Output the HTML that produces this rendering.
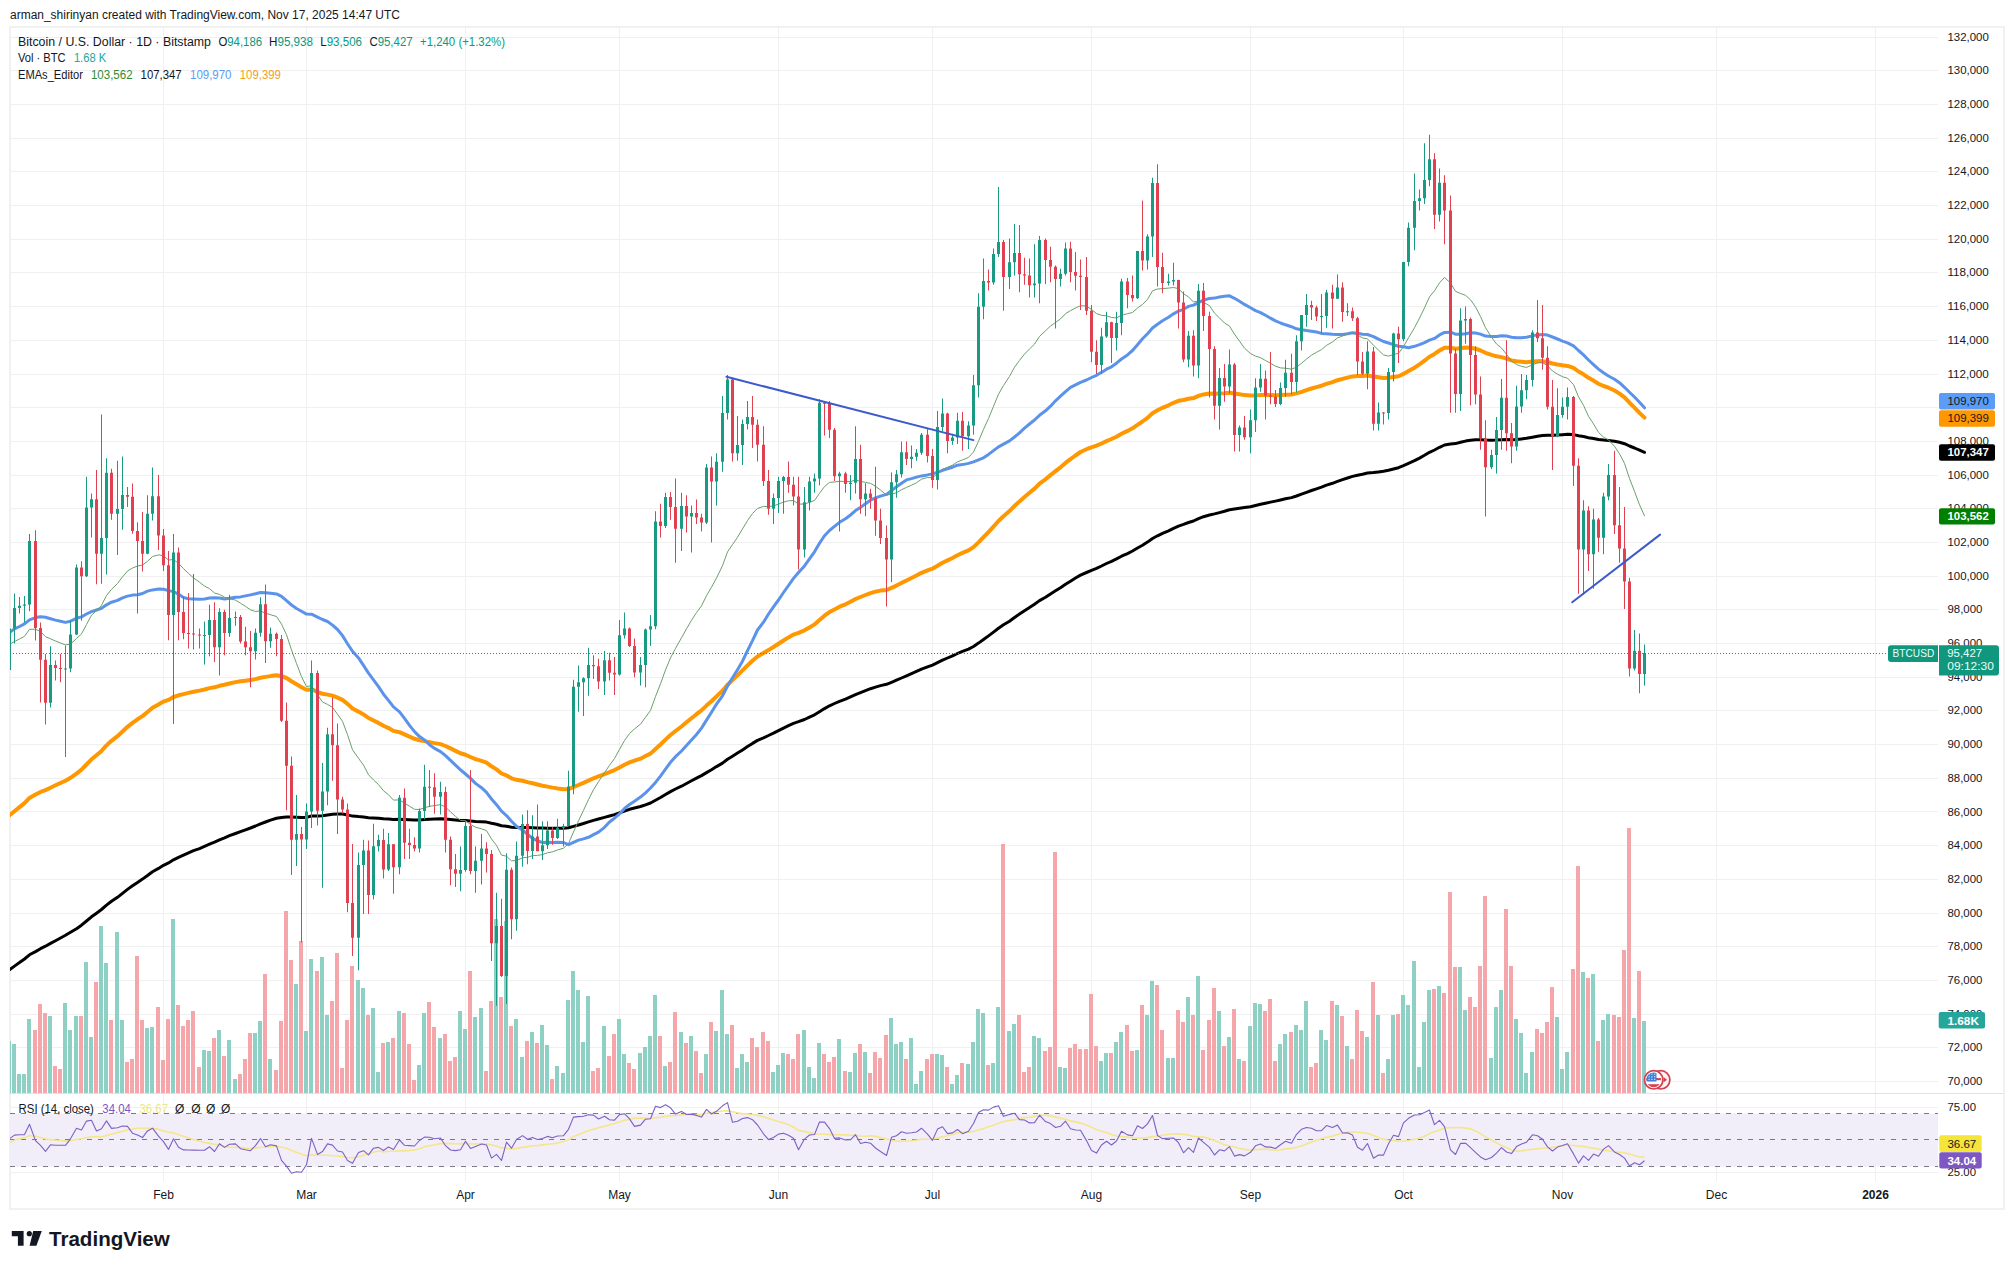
<!DOCTYPE html>
<html><head><meta charset="utf-8"><style>
html,body{margin:0;padding:0;background:#ffffff;width:2014px;height:1269px;overflow:hidden;position:relative;font-family:"Liberation Sans",sans-serif}
</style></head><body>
<svg width="2014" height="1269" viewBox="0 0 2014 1269" style="position:absolute;left:0;top:0">
<defs><clipPath id="pc"><rect x="10" y="27" width="1928" height="1066"/></clipPath><clipPath id="rc"><rect x="10" y="1094" width="1928" height="88"/></clipPath></defs>
<rect x="10" y="27" width="1994" height="1182" fill="#ffffff" stroke="#f1f1f1" stroke-width="2"/>
<path d="M163.5 26.5V1181.5M306.5 26.5V1181.5M465.5 26.5V1181.5M619.5 26.5V1181.5M778.5 26.5V1181.5M932.5 26.5V1181.5M1091.5 26.5V1181.5M1250.5 26.5V1181.5M1403.5 26.5V1181.5M1562.5 26.5V1181.5M1716.5 26.5V1181.5M1875.5 26.5V1181.5M9.5 1081.5H1938M9.5 1047.5H1938M9.5 1014.5H1938M9.5 980.5H1938M9.5 946.5H1938M9.5 913.5H1938M9.5 879.5H1938M9.5 845.5H1938M9.5 811.5H1938M9.5 778.5H1938M9.5 744.5H1938M9.5 710.5H1938M9.5 677.5H1938M9.5 643.5H1938M9.5 609.5H1938M9.5 576.5H1938M9.5 542.5H1938M9.5 508.5H1938M9.5 475.5H1938M9.5 441.5H1938M9.5 407.5H1938M9.5 374.5H1938M9.5 340.5H1938M9.5 306.5H1938M9.5 272.5H1938M9.5 239.5H1938M9.5 205.5H1938M9.5 171.5H1938M9.5 138.5H1938M9.5 104.5H1938M9.5 70.5H1938M9.5 37.5H1938M9.5 1107.5H1938M9.5 1172.5H1938" stroke="#f0f0f0" stroke-width="1" fill="none"/>
<path d="M9.5 1093.5H2003.5" stroke="#e2e2e2" stroke-width="1"/>
<g clip-path="url(#pc)" shape-rendering="crispEdges">
<path d="M2 1053.5h4V1093.5h-4ZM7 1040.5h4V1093.5h-4ZM12 1043.5h4V1093.5h-4ZM17 1073.5h4V1093.5h-4ZM22 1073.5h4V1093.5h-4ZM27 1018.5h4V1093.5h-4ZM48 1015.5h4V1093.5h-4ZM63 1002.5h4V1093.5h-4ZM68 1029.5h4V1093.5h-4ZM74 1015.5h4V1093.5h-4ZM84 961.5h4V1093.5h-4ZM89 1036.5h4V1093.5h-4ZM99 925.5h4V1093.5h-4ZM104 962.5h4V1093.5h-4ZM115 931.5h4V1093.5h-4ZM120 1019.5h4V1093.5h-4ZM145 1027.5h4V1093.5h-4ZM150 1026.5h4V1093.5h-4ZM171 918.5h4V1093.5h-4ZM202 1049.5h4V1093.5h-4ZM207 1050.5h4V1093.5h-4ZM217 1029.5h4V1093.5h-4ZM227 1039.5h4V1093.5h-4ZM233 1078.5h4V1093.5h-4ZM253 1032.5h4V1093.5h-4ZM258 1020.5h4V1093.5h-4ZM268 1058.5h4V1093.5h-4ZM294 983.5h4V1093.5h-4ZM304 1030.5h4V1093.5h-4ZM309 958.5h4V1093.5h-4ZM320 956.5h4V1093.5h-4ZM325 1014.5h4V1093.5h-4ZM356 979.5h4V1093.5h-4ZM361 987.5h4V1093.5h-4ZM371 1007.5h4V1093.5h-4ZM376 1071.5h4V1093.5h-4ZM386 1041.5h4V1093.5h-4ZM397 1010.5h4V1093.5h-4ZM417 1064.5h4V1093.5h-4ZM422 1012.5h4V1093.5h-4ZM438 1037.5h4V1093.5h-4ZM458 1010.5h4V1093.5h-4ZM463 1028.5h4V1093.5h-4ZM473 1016.5h4V1093.5h-4ZM479 1007.5h4V1093.5h-4ZM494 918.5h4V1093.5h-4ZM504 920.5h4V1093.5h-4ZM514 1018.5h4V1093.5h-4ZM520 1056.5h4V1093.5h-4ZM530 1031.5h4V1093.5h-4ZM540 1024.5h4V1093.5h-4ZM545 1044.5h4V1093.5h-4ZM555 1065.5h4V1093.5h-4ZM561 1072.5h4V1093.5h-4ZM566 999.5h4V1093.5h-4ZM571 970.5h4V1093.5h-4ZM576 989.5h4V1093.5h-4ZM581 1041.5h4V1093.5h-4ZM586 995.5h4V1093.5h-4ZM602 1025.5h4V1093.5h-4ZM617 1018.5h4V1093.5h-4ZM622 1053.5h4V1093.5h-4ZM638 1052.5h4V1093.5h-4ZM643 1046.5h4V1093.5h-4ZM648 1035.5h4V1093.5h-4ZM653 994.5h4V1093.5h-4ZM663 1065.5h4V1093.5h-4ZM679 1031.5h4V1093.5h-4ZM689 1035.5h4V1093.5h-4ZM704 1053.5h4V1093.5h-4ZM714 1030.5h4V1093.5h-4ZM720 989.5h4V1093.5h-4ZM725 1033.5h4V1093.5h-4ZM735 1067.5h4V1093.5h-4ZM740 1053.5h4V1093.5h-4ZM745 1061.5h4V1093.5h-4ZM771 1071.5h4V1093.5h-4ZM776 1064.5h4V1093.5h-4ZM781 1052.5h4V1093.5h-4ZM802 1029.5h4V1093.5h-4ZM807 1066.5h4V1093.5h-4ZM812 1077.5h4V1093.5h-4ZM817 1042.5h4V1093.5h-4ZM837 1038.5h4V1093.5h-4ZM848 1071.5h4V1093.5h-4ZM853 1052.5h4V1093.5h-4ZM863 1051.5h4V1093.5h-4ZM889 1017.5h4V1093.5h-4ZM894 1043.5h4V1093.5h-4ZM899 1041.5h4V1093.5h-4ZM909 1037.5h4V1093.5h-4ZM914 1083.5h4V1093.5h-4ZM919 1070.5h4V1093.5h-4ZM935 1053.5h4V1093.5h-4ZM940 1054.5h4V1093.5h-4ZM950 1083.5h4V1093.5h-4ZM955 1074.5h4V1093.5h-4ZM966 1063.5h4V1093.5h-4ZM971 1041.5h4V1093.5h-4ZM976 1008.5h4V1093.5h-4ZM981 1012.5h4V1093.5h-4ZM991 1062.5h4V1093.5h-4ZM996 1006.5h4V1093.5h-4ZM1007 1030.5h4V1093.5h-4ZM1012 1023.5h4V1093.5h-4ZM1032 1035.5h4V1093.5h-4ZM1037 1037.5h4V1093.5h-4ZM1058 1066.5h4V1093.5h-4ZM1063 1067.5h4V1093.5h-4ZM1099 1060.5h4V1093.5h-4ZM1104 1052.5h4V1093.5h-4ZM1114 1041.5h4V1093.5h-4ZM1119 1031.5h4V1093.5h-4ZM1135 1049.5h4V1093.5h-4ZM1145 1014.5h4V1093.5h-4ZM1150 980.5h4V1093.5h-4ZM1166 1057.5h4V1093.5h-4ZM1171 1057.5h4V1093.5h-4ZM1186 996.5h4V1093.5h-4ZM1196 975.5h4V1093.5h-4ZM1217 1010.5h4V1093.5h-4ZM1227 1036.5h4V1093.5h-4ZM1237 1058.5h4V1093.5h-4ZM1248 1025.5h4V1093.5h-4ZM1253 1002.5h4V1093.5h-4ZM1258 1003.5h4V1093.5h-4ZM1278 1043.5h4V1093.5h-4ZM1283 1033.5h4V1093.5h-4ZM1294 1024.5h4V1093.5h-4ZM1299 1029.5h4V1093.5h-4ZM1304 1000.5h4V1093.5h-4ZM1319 1029.5h4V1093.5h-4ZM1324 1039.5h4V1093.5h-4ZM1335 1004.5h4V1093.5h-4ZM1345 1045.5h4V1093.5h-4ZM1365 1036.5h4V1093.5h-4ZM1376 1014.5h4V1093.5h-4ZM1386 1058.5h4V1093.5h-4ZM1391 1014.5h4V1093.5h-4ZM1401 994.5h4V1093.5h-4ZM1406 1004.5h4V1093.5h-4ZM1412 960.5h4V1093.5h-4ZM1417 1066.5h4V1093.5h-4ZM1422 1021.5h4V1093.5h-4ZM1427 989.5h4V1093.5h-4ZM1437 985.5h4V1093.5h-4ZM1458 966.5h4V1093.5h-4ZM1463 1009.5h4V1093.5h-4ZM1489 1057.5h4V1093.5h-4ZM1494 1006.5h4V1093.5h-4ZM1499 989.5h4V1093.5h-4ZM1514 1018.5h4V1093.5h-4ZM1519 1032.5h4V1093.5h-4ZM1524 1072.5h4V1093.5h-4ZM1530 1051.5h4V1093.5h-4ZM1555 1016.5h4V1093.5h-4ZM1560 1068.5h4V1093.5h-4ZM1565 1051.5h4V1093.5h-4ZM1581 971.5h4V1093.5h-4ZM1591 973.5h4V1093.5h-4ZM1601 1019.5h4V1093.5h-4ZM1606 1013.5h4V1093.5h-4ZM1632 1017.5h4V1093.5h-4ZM1642 1020.5h4V1093.5h-4Z" fill="#8fd0c5"/>
<path d="M33 1029.5h4V1093.5h-4ZM38 1003.5h4V1093.5h-4ZM43 1012.5h4V1093.5h-4ZM53 1065.5h4V1093.5h-4ZM58 1068.5h4V1093.5h-4ZM79 1015.5h4V1093.5h-4ZM94 981.5h4V1093.5h-4ZM109 1019.5h4V1093.5h-4ZM125 1061.5h4V1093.5h-4ZM130 1058.5h4V1093.5h-4ZM135 955.5h4V1093.5h-4ZM140 1019.5h4V1093.5h-4ZM156 1006.5h4V1093.5h-4ZM161 1059.5h4V1093.5h-4ZM166 1018.5h4V1093.5h-4ZM176 1004.5h4V1093.5h-4ZM181 1025.5h4V1093.5h-4ZM186 1019.5h4V1093.5h-4ZM191 1010.5h4V1093.5h-4ZM197 1066.5h4V1093.5h-4ZM212 1037.5h4V1093.5h-4ZM222 1055.5h4V1093.5h-4ZM238 1073.5h4V1093.5h-4ZM243 1058.5h4V1093.5h-4ZM248 1032.5h4V1093.5h-4ZM263 973.5h4V1093.5h-4ZM274 1069.5h4V1093.5h-4ZM279 1020.5h4V1093.5h-4ZM284 910.5h4V1093.5h-4ZM289 959.5h4V1093.5h-4ZM299 940.5h4V1093.5h-4ZM315 970.5h4V1093.5h-4ZM330 1000.5h4V1093.5h-4ZM335 952.5h4V1093.5h-4ZM340 1067.5h4V1093.5h-4ZM345 1019.5h4V1093.5h-4ZM350 965.5h4V1093.5h-4ZM366 1014.5h4V1093.5h-4ZM381 1042.5h4V1093.5h-4ZM391 1037.5h4V1093.5h-4ZM402 1012.5h4V1093.5h-4ZM407 1043.5h4V1093.5h-4ZM412 1079.5h4V1093.5h-4ZM427 1001.5h4V1093.5h-4ZM432 1026.5h4V1093.5h-4ZM443 1033.5h4V1093.5h-4ZM448 1060.5h4V1093.5h-4ZM453 1056.5h4V1093.5h-4ZM468 970.5h4V1093.5h-4ZM484 1070.5h4V1093.5h-4ZM489 1000.5h4V1093.5h-4ZM499 996.5h4V1093.5h-4ZM509 1025.5h4V1093.5h-4ZM525 1040.5h4V1093.5h-4ZM535 1042.5h4V1093.5h-4ZM550 1078.5h4V1093.5h-4ZM591 1070.5h4V1093.5h-4ZM596 1067.5h4V1093.5h-4ZM607 1055.5h4V1093.5h-4ZM612 1033.5h4V1093.5h-4ZM627 1062.5h4V1093.5h-4ZM632 1068.5h4V1093.5h-4ZM658 1035.5h4V1093.5h-4ZM668 1061.5h4V1093.5h-4ZM673 1011.5h4V1093.5h-4ZM684 1042.5h4V1093.5h-4ZM694 1050.5h4V1093.5h-4ZM699 1072.5h4V1093.5h-4ZM709 1021.5h4V1093.5h-4ZM730 1024.5h4V1093.5h-4ZM750 1037.5h4V1093.5h-4ZM755 1046.5h4V1093.5h-4ZM761 1031.5h4V1093.5h-4ZM766 1040.5h4V1093.5h-4ZM786 1053.5h4V1093.5h-4ZM791 1058.5h4V1093.5h-4ZM796 1033.5h4V1093.5h-4ZM822 1053.5h4V1093.5h-4ZM827 1061.5h4V1093.5h-4ZM832 1056.5h4V1093.5h-4ZM843 1070.5h4V1093.5h-4ZM858 1043.5h4V1093.5h-4ZM868 1072.5h4V1093.5h-4ZM873 1051.5h4V1093.5h-4ZM878 1057.5h4V1093.5h-4ZM884 1034.5h4V1093.5h-4ZM904 1058.5h4V1093.5h-4ZM925 1058.5h4V1093.5h-4ZM930 1053.5h4V1093.5h-4ZM945 1066.5h4V1093.5h-4ZM960 1062.5h4V1093.5h-4ZM986 1064.5h4V1093.5h-4ZM1001 843.5h4V1093.5h-4ZM1017 1014.5h4V1093.5h-4ZM1022 1071.5h4V1093.5h-4ZM1027 1066.5h4V1093.5h-4ZM1043 1050.5h4V1093.5h-4ZM1048 1046.5h4V1093.5h-4ZM1053 851.5h4V1093.5h-4ZM1068 1047.5h4V1093.5h-4ZM1073 1043.5h4V1093.5h-4ZM1078 1048.5h4V1093.5h-4ZM1084 1048.5h4V1093.5h-4ZM1089 993.5h4V1093.5h-4ZM1094 1045.5h4V1093.5h-4ZM1109 1052.5h4V1093.5h-4ZM1125 1024.5h4V1093.5h-4ZM1130 1050.5h4V1093.5h-4ZM1140 1004.5h4V1093.5h-4ZM1155 984.5h4V1093.5h-4ZM1160 1029.5h4V1093.5h-4ZM1176 1009.5h4V1093.5h-4ZM1181 1021.5h4V1093.5h-4ZM1191 1014.5h4V1093.5h-4ZM1201 1049.5h4V1093.5h-4ZM1207 1019.5h4V1093.5h-4ZM1212 987.5h4V1093.5h-4ZM1222 1045.5h4V1093.5h-4ZM1232 1008.5h4V1093.5h-4ZM1242 1060.5h4V1093.5h-4ZM1263 1010.5h4V1093.5h-4ZM1268 998.5h4V1093.5h-4ZM1273 1060.5h4V1093.5h-4ZM1289 1031.5h4V1093.5h-4ZM1309 1066.5h4V1093.5h-4ZM1314 1062.5h4V1093.5h-4ZM1330 1000.5h4V1093.5h-4ZM1340 1015.5h4V1093.5h-4ZM1350 1058.5h4V1093.5h-4ZM1355 1009.5h4V1093.5h-4ZM1360 1030.5h4V1093.5h-4ZM1371 981.5h4V1093.5h-4ZM1381 1072.5h4V1093.5h-4ZM1396 1013.5h4V1093.5h-4ZM1432 988.5h4V1093.5h-4ZM1442 992.5h4V1093.5h-4ZM1448 891.5h4V1093.5h-4ZM1453 966.5h4V1093.5h-4ZM1468 996.5h4V1093.5h-4ZM1473 1006.5h4V1093.5h-4ZM1478 965.5h4V1093.5h-4ZM1483 895.5h4V1093.5h-4ZM1504 908.5h4V1093.5h-4ZM1509 965.5h4V1093.5h-4ZM1535 1028.5h4V1093.5h-4ZM1540 1032.5h4V1093.5h-4ZM1545 1021.5h4V1093.5h-4ZM1550 986.5h4V1093.5h-4ZM1571 968.5h4V1093.5h-4ZM1576 865.5h4V1093.5h-4ZM1586 977.5h4V1093.5h-4ZM1596 1040.5h4V1093.5h-4ZM1612 1014.5h4V1093.5h-4ZM1617 1016.5h4V1093.5h-4ZM1622 949.5h4V1093.5h-4ZM1627 827.5h4V1093.5h-4ZM1637 970.5h4V1093.5h-4Z" fill="#f5a6aa"/>
</g>
<g clip-path="url(#pc)" fill="none" stroke-linejoin="round" stroke-linecap="round">
<path d="M4.5,973.2 L9.5,969.7 L14.5,966.1 L19.5,962.6 L24.5,959.0 L29.5,954.8 L35.5,951.6 L40.5,948.7 L45.5,946.2 L50.5,943.4 L55.5,940.7 L60.5,938.0 L65.5,935.3 L70.5,932.3 L76.5,928.7 L81.5,925.2 L86.5,921.0 L91.5,916.8 L96.5,913.2 L101.5,909.5 L106.5,905.1 L111.5,901.2 L117.5,897.3 L122.5,893.3 L127.5,889.4 L132.5,885.8 L137.5,882.4 L142.5,879.1 L147.5,875.5 L152.5,871.7 L158.5,868.4 L163.5,865.3 L168.5,862.9 L173.5,859.8 L178.5,857.3 L183.5,855.1 L188.5,852.9 L193.5,850.7 L199.5,848.6 L204.5,846.4 L209.5,844.2 L214.5,842.2 L219.5,839.9 L224.5,837.9 L229.5,835.7 L235.5,833.5 L240.5,831.6 L245.5,829.8 L250.5,828.0 L255.5,826.0 L260.5,823.8 L265.5,822.0 L270.5,820.1 L276.5,818.3 L281.5,817.4 L286.5,816.9 L291.5,817.1 L296.5,817.3 L301.5,817.5 L306.5,817.4 L311.5,816.0 L317.5,815.9 L322.5,815.7 L327.5,814.9 L332.5,814.2 L337.5,814.0 L342.5,814.0 L347.5,814.9 L352.5,816.1 L358.5,816.6 L363.5,816.9 L368.5,817.7 L373.5,818.0 L378.5,818.2 L383.5,818.7 L388.5,819.0 L393.5,819.4 L399.5,819.2 L404.5,819.5 L409.5,819.7 L414.5,820.0 L419.5,819.9 L424.5,819.6 L429.5,819.3 L434.5,819.0 L440.5,818.8 L445.5,819.0 L450.5,819.5 L455.5,820.0 L460.5,820.5 L465.5,820.6 L470.5,821.1 L475.5,821.5 L481.5,821.7 L486.5,822.1 L491.5,823.3 L496.5,824.3 L501.5,825.8 L506.5,826.2 L511.5,827.2 L516.5,827.4 L522.5,827.4 L527.5,827.6 L532.5,827.7 L537.5,828.0 L542.5,828.1 L547.5,828.2 L552.5,828.3 L557.5,828.3 L563.5,828.2 L568.5,827.8 L573.5,826.4 L578.5,825.0 L583.5,823.5 L588.5,821.9 L593.5,820.4 L598.5,819.0 L604.5,817.4 L609.5,816.0 L614.5,814.6 L619.5,812.8 L624.5,811.0 L629.5,809.3 L634.5,808.0 L640.5,806.5 L645.5,804.8 L650.5,803.0 L655.5,800.2 L660.5,797.5 L665.5,794.5 L670.5,791.6 L675.5,789.0 L681.5,786.2 L686.5,783.5 L691.5,780.8 L696.5,778.2 L701.5,775.6 L706.5,772.6 L711.5,769.7 L716.5,766.6 L722.5,763.1 L727.5,759.3 L732.5,756.2 L737.5,753.1 L742.5,749.9 L747.5,746.6 L752.5,743.4 L757.5,740.4 L763.5,737.8 L768.5,735.5 L773.5,733.2 L778.5,730.7 L783.5,728.1 L788.5,725.7 L793.5,723.4 L798.5,721.7 L804.5,719.5 L809.5,717.1 L814.5,714.8 L819.5,711.7 L824.5,708.6 L829.5,705.8 L834.5,703.5 L839.5,701.3 L845.5,699.1 L850.5,696.9 L855.5,694.6 L860.5,692.6 L865.5,690.6 L870.5,688.7 L875.5,687.1 L880.5,685.6 L886.5,684.3 L891.5,682.3 L896.5,680.2 L901.5,678.0 L906.5,675.8 L911.5,673.6 L916.5,671.4 L921.5,669.1 L927.5,666.9 L932.5,665.1 L937.5,662.7 L942.5,660.2 L947.5,658.0 L952.5,655.8 L957.5,653.5 L962.5,651.3 L968.5,649.1 L973.5,646.5 L978.5,643.1 L983.5,639.5 L988.5,635.9 L993.5,632.1 L998.5,628.3 L1003.5,624.8 L1009.5,621.2 L1014.5,617.5 L1019.5,614.1 L1024.5,610.7 L1029.5,607.5 L1034.5,604.2 L1039.5,600.6 L1045.5,597.2 L1050.5,593.9 L1055.5,590.8 L1060.5,587.7 L1065.5,584.3 L1070.5,581.2 L1075.5,578.1 L1080.5,575.1 L1086.5,572.5 L1091.5,570.3 L1096.5,568.3 L1101.5,566.0 L1106.5,563.5 L1111.5,561.3 L1116.5,558.9 L1121.5,556.2 L1127.5,553.6 L1132.5,551.0 L1137.5,548.0 L1142.5,545.2 L1147.5,542.1 L1152.5,538.5 L1157.5,535.8 L1162.5,533.3 L1168.5,530.8 L1173.5,528.3 L1178.5,526.1 L1183.5,524.4 L1188.5,522.5 L1193.5,521.0 L1198.5,518.7 L1203.5,516.7 L1209.5,515.0 L1214.5,513.9 L1219.5,512.6 L1224.5,511.3 L1229.5,509.8 L1234.5,509.1 L1239.5,508.3 L1244.5,507.6 L1250.5,506.7 L1255.5,505.5 L1260.5,504.3 L1265.5,503.2 L1270.5,502.1 L1275.5,501.1 L1280.5,500.0 L1285.5,498.8 L1291.5,497.6 L1296.5,496.0 L1301.5,494.2 L1306.5,492.3 L1311.5,490.5 L1316.5,488.8 L1321.5,487.1 L1326.5,485.1 L1332.5,483.3 L1337.5,481.3 L1342.5,479.6 L1347.5,478.0 L1352.5,476.4 L1357.5,475.2 L1362.5,474.2 L1367.5,473.0 L1373.5,472.5 L1378.5,471.9 L1383.5,471.3 L1388.5,470.3 L1393.5,469.0 L1398.5,467.7 L1403.5,465.6 L1408.5,463.3 L1414.5,460.7 L1419.5,458.1 L1424.5,455.3 L1429.5,452.3 L1434.5,450.0 L1439.5,447.3 L1444.5,445.0 L1450.5,444.1 L1455.5,443.6 L1460.5,442.3 L1465.5,441.1 L1470.5,440.2 L1475.5,439.8 L1480.5,439.8 L1485.5,440.1 L1491.5,440.2 L1496.5,440.1 L1501.5,439.7 L1506.5,439.6 L1511.5,439.7 L1516.5,439.4 L1521.5,438.9 L1526.5,438.3 L1532.5,437.2 L1537.5,436.2 L1542.5,435.5 L1547.5,435.2 L1552.5,435.2 L1557.5,435.0 L1562.5,434.7 L1567.5,434.3 L1573.5,434.6 L1578.5,435.8 L1583.5,436.5 L1588.5,437.7 L1593.5,438.5 L1598.5,439.5 L1603.5,440.1 L1608.5,440.4 L1614.5,441.3 L1619.5,442.3 L1624.5,443.7 L1629.5,446.0 L1634.5,448.0 L1639.5,450.2 L1644.5,452.3" stroke="#000000" stroke-width="3"/>
<path d="M4.5,819.1 L9.5,815.3 L14.5,811.2 L19.5,807.1 L24.5,803.1 L29.5,797.9 L35.5,794.6 L40.5,791.9 L45.5,790.1 L50.5,787.7 L55.5,785.3 L60.5,783.0 L65.5,780.7 L70.5,777.8 L76.5,773.6 L81.5,769.7 L86.5,764.5 L91.5,759.3 L96.5,755.2 L101.5,750.9 L106.5,745.4 L111.5,740.8 L117.5,736.2 L122.5,731.5 L127.5,726.8 L132.5,722.9 L137.5,719.3 L142.5,716.1 L147.5,712.0 L152.5,707.8 L158.5,704.4 L163.5,701.6 L168.5,699.9 L173.5,697.0 L178.5,695.3 L183.5,694.1 L188.5,692.9 L193.5,691.7 L199.5,690.6 L204.5,689.5 L209.5,688.1 L214.5,687.3 L219.5,685.8 L224.5,684.8 L229.5,683.5 L235.5,682.1 L240.5,681.3 L245.5,680.7 L250.5,680.1 L255.5,679.1 L260.5,677.7 L265.5,676.9 L270.5,676.1 L276.5,675.3 L281.5,676.2 L286.5,678.0 L291.5,681.2 L296.5,684.2 L301.5,687.3 L306.5,689.8 L311.5,689.4 L317.5,691.8 L322.5,693.8 L327.5,694.6 L332.5,695.6 L337.5,697.7 L342.5,699.9 L347.5,703.9 L352.5,708.5 L358.5,711.6 L363.5,714.4 L368.5,718.0 L373.5,720.5 L378.5,722.9 L383.5,725.8 L388.5,728.1 L393.5,730.9 L399.5,732.2 L404.5,734.4 L409.5,736.6 L414.5,738.8 L419.5,740.2 L424.5,741.1 L429.5,742.1 L434.5,743.1 L440.5,744.1 L445.5,746.0 L450.5,748.4 L455.5,750.9 L460.5,753.3 L465.5,754.7 L470.5,757.0 L475.5,759.1 L481.5,760.9 L486.5,762.7 L491.5,766.3 L496.5,769.4 L501.5,773.5 L506.5,775.4 L511.5,778.3 L516.5,779.8 L522.5,780.7 L527.5,782.1 L532.5,783.2 L537.5,784.5 L542.5,785.7 L547.5,786.6 L552.5,787.6 L557.5,788.4 L563.5,789.2 L568.5,789.1 L573.5,787.1 L578.5,785.0 L583.5,782.9 L588.5,780.6 L593.5,778.3 L598.5,776.4 L604.5,774.1 L609.5,772.1 L614.5,770.1 L619.5,767.5 L624.5,764.7 L629.5,762.4 L634.5,760.6 L640.5,758.7 L645.5,756.1 L650.5,753.6 L655.5,749.0 L660.5,744.5 L665.5,739.6 L670.5,735.0 L675.5,731.0 L681.5,726.5 L686.5,722.3 L691.5,718.2 L696.5,714.2 L701.5,710.4 L706.5,705.6 L711.5,701.2 L716.5,696.4 L722.5,690.8 L727.5,684.7 L732.5,680.1 L737.5,675.4 L742.5,670.4 L747.5,665.4 L752.5,660.7 L757.5,656.4 L763.5,652.9 L768.5,650.1 L773.5,647.0 L778.5,643.8 L783.5,640.5 L788.5,637.4 L793.5,634.6 L798.5,632.9 L804.5,630.3 L809.5,627.4 L814.5,624.4 L819.5,620.0 L824.5,615.7 L829.5,612.1 L834.5,609.4 L839.5,606.7 L845.5,604.3 L850.5,601.8 L855.5,599.0 L860.5,597.0 L865.5,595.0 L870.5,593.1 L875.5,591.6 L880.5,590.6 L886.5,590.0 L891.5,587.8 L896.5,585.6 L901.5,582.9 L906.5,580.5 L911.5,578.0 L916.5,575.5 L921.5,572.8 L927.5,570.4 L932.5,568.7 L937.5,565.8 L942.5,562.8 L947.5,560.4 L952.5,558.0 L957.5,555.3 L962.5,552.9 L968.5,550.4 L973.5,547.1 L978.5,542.4 L983.5,537.2 L988.5,532.1 L993.5,526.6 L998.5,521.0 L1003.5,516.2 L1009.5,511.1 L1014.5,506.0 L1019.5,501.4 L1024.5,497.0 L1029.5,492.8 L1034.5,488.6 L1039.5,483.7 L1045.5,479.3 L1050.5,475.1 L1055.5,471.2 L1060.5,467.3 L1065.5,462.9 L1070.5,459.2 L1075.5,455.5 L1080.5,452.0 L1086.5,449.2 L1091.5,447.3 L1096.5,445.6 L1101.5,443.5 L1106.5,441.1 L1111.5,439.0 L1116.5,436.7 L1121.5,433.7 L1127.5,430.9 L1132.5,428.3 L1137.5,424.8 L1142.5,421.5 L1147.5,417.9 L1152.5,413.2 L1157.5,410.3 L1162.5,407.8 L1168.5,405.3 L1173.5,402.8 L1178.5,400.8 L1183.5,400.0 L1188.5,398.7 L1193.5,398.1 L1198.5,395.9 L1203.5,394.4 L1209.5,393.5 L1214.5,393.7 L1219.5,393.4 L1224.5,393.3 L1229.5,392.7 L1234.5,393.5 L1239.5,394.2 L1244.5,395.1 L1250.5,395.6 L1255.5,395.4 L1260.5,395.1 L1265.5,395.1 L1270.5,395.1 L1275.5,395.3 L1280.5,395.1 L1285.5,394.7 L1291.5,394.5 L1296.5,393.4 L1301.5,391.8 L1306.5,390.1 L1311.5,388.5 L1316.5,387.1 L1321.5,385.7 L1326.5,383.8 L1332.5,382.1 L1337.5,380.2 L1342.5,378.9 L1347.5,377.6 L1352.5,376.4 L1357.5,376.1 L1362.5,376.0 L1367.5,375.6 L1373.5,376.5 L1378.5,377.2 L1383.5,377.9 L1388.5,377.8 L1393.5,376.9 L1398.5,376.2 L1403.5,373.9 L1408.5,371.0 L1414.5,367.7 L1419.5,364.3 L1424.5,360.7 L1429.5,356.7 L1434.5,353.9 L1439.5,350.5 L1444.5,347.7 L1450.5,347.8 L1455.5,348.7 L1460.5,348.2 L1465.5,347.6 L1470.5,347.8 L1475.5,348.7 L1480.5,350.5 L1485.5,352.8 L1491.5,354.8 L1496.5,356.3 L1501.5,357.1 L1506.5,358.6 L1511.5,360.4 L1516.5,361.3 L1521.5,361.8 L1526.5,362.2 L1532.5,361.6 L1537.5,361.2 L1542.5,361.1 L1547.5,362.0 L1552.5,363.5 L1557.5,364.5 L1562.5,365.3 L1567.5,365.9 L1573.5,367.9 L1578.5,371.5 L1583.5,374.3 L1588.5,377.8 L1593.5,380.6 L1598.5,383.7 L1603.5,386.0 L1608.5,387.7 L1614.5,390.5 L1619.5,393.6 L1624.5,397.3 L1629.5,402.7 L1634.5,407.6 L1639.5,412.9 L1644.5,417.6" stroke="#ff9800" stroke-width="4"/>
<path d="M4.5,634.8 L9.5,632.6 L14.5,628.9 L19.5,626.5 L24.5,623.9 L29.5,619.8 L35.5,617.6 L40.5,616.7 L45.5,617.3 L50.5,618.7 L55.5,620.1 L60.5,621.2 L65.5,622.4 L70.5,621.2 L76.5,618.3 L81.5,616.9 L86.5,614.0 L91.5,611.7 L96.5,610.0 L101.5,608.3 L106.5,604.8 L111.5,602.2 L117.5,600.4 L122.5,597.8 L127.5,596.1 L132.5,595.1 L137.5,594.8 L142.5,593.5 L147.5,591.1 L152.5,589.9 L158.5,589.1 L163.5,589.3 L168.5,590.6 L173.5,591.6 L178.5,594.3 L183.5,597.5 L188.5,598.7 L193.5,599.0 L199.5,599.3 L204.5,598.9 L209.5,598.0 L214.5,597.7 L219.5,598.0 L224.5,598.9 L229.5,598.3 L235.5,597.2 L240.5,596.9 L245.5,595.9 L250.5,594.9 L255.5,593.8 L260.5,592.5 L265.5,592.8 L270.5,593.3 L276.5,593.9 L281.5,596.3 L286.5,600.7 L291.5,605.0 L296.5,608.5 L301.5,611.2 L306.5,614.1 L311.5,614.2 L317.5,617.1 L322.5,619.5 L327.5,621.5 L332.5,625.1 L337.5,629.5 L342.5,635.6 L347.5,643.7 L352.5,651.3 L358.5,657.9 L363.5,665.4 L368.5,673.1 L373.5,679.8 L378.5,686.7 L383.5,694.2 L388.5,700.4 L393.5,706.9 L399.5,711.8 L404.5,718.4 L409.5,725.4 L414.5,731.6 L419.5,736.6 L424.5,740.0 L429.5,744.7 L434.5,748.4 L440.5,751.6 L445.5,755.7 L450.5,760.4 L455.5,765.1 L460.5,769.8 L465.5,774.0 L470.5,778.4 L475.5,783.4 L481.5,787.7 L486.5,792.4 L491.5,799.0 L496.5,804.7 L501.5,811.2 L506.5,815.6 L511.5,821.3 L516.5,826.4 L522.5,830.0 L527.5,834.4 L532.5,838.3 L537.5,840.9 L542.5,842.5 L547.5,842.3 L552.5,842.4 L557.5,842.2 L563.5,842.5 L568.5,844.7 L573.5,842.3 L578.5,840.1 L583.5,838.9 L588.5,837.3 L593.5,834.7 L598.5,832.1 L604.5,827.3 L609.5,822.0 L614.5,818.2 L619.5,813.9 L624.5,808.5 L629.5,804.5 L634.5,801.2 L640.5,797.1 L645.5,792.8 L650.5,788.0 L655.5,782.4 L660.5,776.1 L665.5,769.1 L670.5,762.3 L675.5,756.7 L681.5,751.0 L686.5,745.6 L691.5,740.0 L696.5,734.5 L701.5,728.1 L706.5,720.1 L711.5,712.2 L716.5,704.1 L722.5,695.8 L727.5,686.0 L732.5,677.8 L737.5,669.8 L742.5,661.2 L747.5,650.6 L752.5,640.6 L757.5,630.0 L763.5,622.2 L768.5,614.0 L773.5,606.9 L778.5,600.0 L783.5,592.5 L788.5,585.5 L793.5,578.4 L798.5,572.5 L804.5,565.9 L809.5,558.8 L814.5,551.8 L819.5,543.3 L824.5,535.7 L829.5,530.5 L834.5,526.4 L839.5,522.3 L845.5,518.7 L850.5,515.0 L855.5,510.6 L860.5,507.4 L865.5,503.8 L870.5,500.2 L875.5,497.9 L880.5,496.1 L886.5,494.4 L891.5,490.6 L896.5,486.8 L901.5,483.2 L906.5,479.9 L911.5,478.6 L916.5,477.1 L921.5,475.9 L927.5,474.9 L932.5,473.9 L937.5,472.3 L942.5,470.3 L947.5,468.8 L952.5,467.2 L957.5,465.2 L962.5,464.6 L968.5,463.4 L973.5,461.9 L978.5,459.8 L983.5,457.8 L988.5,454.4 L993.5,450.6 L998.5,446.9 L1003.5,444.1 L1009.5,440.9 L1014.5,437.0 L1019.5,432.9 L1024.5,428.2 L1029.5,424.0 L1034.5,420.0 L1039.5,415.3 L1045.5,410.8 L1050.5,406.2 L1055.5,400.8 L1060.5,396.2 L1065.5,391.6 L1070.5,387.4 L1075.5,384.9 L1080.5,382.4 L1086.5,380.0 L1091.5,377.5 L1096.5,375.3 L1101.5,372.4 L1106.5,369.2 L1111.5,366.8 L1116.5,363.2 L1121.5,359.0 L1127.5,354.9 L1132.5,350.5 L1137.5,344.7 L1142.5,338.8 L1147.5,333.8 L1152.5,328.0 L1157.5,324.3 L1162.5,320.8 L1168.5,317.3 L1173.5,313.8 L1178.5,311.2 L1183.5,309.3 L1188.5,306.4 L1193.5,305.1 L1198.5,302.7 L1203.5,300.2 L1209.5,298.4 L1214.5,298.1 L1219.5,297.0 L1224.5,296.2 L1229.5,295.8 L1234.5,298.3 L1239.5,301.3 L1244.5,304.4 L1250.5,307.7 L1255.5,310.6 L1260.5,312.6 L1265.5,315.3 L1270.5,318.2 L1275.5,320.8 L1280.5,323.0 L1285.5,324.8 L1291.5,326.7 L1296.5,328.8 L1301.5,329.8 L1306.5,330.6 L1311.5,331.2 L1316.5,332.0 L1321.5,333.4 L1326.5,333.8 L1332.5,334.3 L1337.5,334.5 L1342.5,334.5 L1347.5,333.7 L1352.5,332.7 L1357.5,333.2 L1362.5,334.3 L1367.5,334.5 L1373.5,336.6 L1378.5,339.2 L1383.5,341.5 L1388.5,343.0 L1393.5,344.7 L1398.5,346.2 L1403.5,346.8 L1408.5,347.7 L1414.5,346.3 L1419.5,344.6 L1424.5,342.6 L1429.5,340.2 L1434.5,338.4 L1439.5,334.9 L1444.5,332.4 L1450.5,332.2 L1455.5,334.2 L1460.5,334.3 L1465.5,333.7 L1470.5,332.7 L1475.5,333.0 L1480.5,334.1 L1485.5,336.1 L1491.5,336.5 L1496.5,336.6 L1501.5,335.8 L1506.5,336.0 L1511.5,337.2 L1516.5,337.8 L1521.5,337.7 L1526.5,337.3 L1532.5,335.9 L1537.5,334.9 L1542.5,334.6 L1547.5,335.1 L1552.5,337.0 L1557.5,339.0 L1562.5,341.1 L1567.5,342.8 L1573.5,345.8 L1578.5,350.5 L1583.5,354.9 L1588.5,360.0 L1593.5,364.6 L1598.5,369.1 L1603.5,372.8 L1608.5,376.0 L1614.5,379.2 L1619.5,382.7 L1624.5,387.3 L1629.5,392.2 L1634.5,397.0 L1639.5,402.2 L1644.5,407.8" stroke="#5b92ea" stroke-width="3"/>
<path d="M4.5,645.5 L9.5,644.2 L14.5,641.6 L19.5,638.9 L24.5,636.4 L29.5,629.3 L35.5,629.2 L40.5,631.5 L45.5,636.7 L50.5,638.8 L55.5,641.0 L60.5,643.0 L65.5,644.9 L70.5,644.1 L76.5,638.5 L81.5,633.9 L86.5,624.5 L91.5,615.2 L96.5,610.7 L101.5,605.3 L106.5,595.5 L111.5,589.4 L117.5,583.5 L122.5,576.9 L127.5,571.0 L132.5,568.0 L137.5,566.0 L142.5,565.1 L147.5,561.3 L152.5,556.5 L158.5,554.9 L163.5,555.7 L168.5,560.1 L173.5,559.5 L178.5,563.4 L183.5,568.6 L188.5,573.4 L193.5,577.9 L199.5,582.2 L204.5,586.1 L209.5,588.6 L214.5,593.0 L219.5,594.4 L224.5,597.2 L229.5,598.8 L235.5,600.1 L240.5,603.2 L245.5,606.4 L250.5,609.8 L255.5,611.5 L260.5,610.9 L265.5,613.2 L270.5,614.7 L276.5,616.5 L281.5,624.2 L286.5,634.7 L291.5,649.9 L296.5,663.5 L301.5,676.6 L306.5,686.6 L311.5,685.6 L317.5,694.8 L322.5,702.0 L327.5,704.4 L332.5,707.4 L337.5,714.2 L342.5,721.3 L347.5,734.7 L352.5,749.8 L358.5,758.3 L363.5,765.1 L368.5,774.7 L373.5,780.0 L378.5,784.5 L383.5,790.8 L388.5,794.7 L393.5,800.1 L399.5,799.9 L404.5,803.1 L409.5,806.2 L414.5,809.3 L419.5,809.5 L424.5,807.8 L429.5,806.3 L434.5,805.6 L440.5,804.6 L445.5,807.2 L450.5,811.8 L455.5,816.4 L460.5,820.4 L465.5,820.8 L470.5,824.5 L475.5,827.2 L481.5,828.8 L486.5,830.6 L491.5,839.0 L496.5,845.4 L501.5,855.1 L506.5,856.2 L511.5,860.8 L516.5,860.5 L522.5,857.8 L527.5,857.3 L532.5,855.7 L537.5,855.4 L542.5,854.6 L547.5,852.8 L552.5,851.8 L557.5,850.0 L563.5,848.2 L568.5,843.6 L573.5,832.0 L578.5,820.9 L583.5,810.3 L588.5,799.6 L593.5,789.7 L598.5,781.7 L604.5,772.7 L609.5,765.3 L614.5,758.6 L619.5,749.4 L624.5,740.5 L629.5,733.5 L634.5,728.9 L640.5,724.2 L645.5,717.2 L650.5,710.5 L655.5,696.5 L660.5,683.8 L665.5,670.0 L670.5,657.9 L675.5,648.4 L681.5,637.8 L686.5,628.8 L691.5,620.3 L696.5,612.6 L701.5,605.9 L706.5,595.7 L711.5,587.2 L716.5,578.0 L722.5,565.7 L727.5,551.9 L732.5,544.6 L737.5,537.3 L742.5,528.9 L747.5,520.6 L752.5,513.5 L757.5,508.4 L763.5,506.4 L768.5,506.6 L773.5,505.9 L778.5,504.1 L783.5,502.1 L788.5,500.8 L793.5,500.5 L798.5,504.1 L804.5,504.0 L809.5,502.3 L814.5,500.5 L819.5,493.3 L824.5,486.6 L829.5,482.4 L834.5,482.0 L839.5,481.3 L845.5,481.5 L850.5,481.6 L855.5,480.0 L860.5,481.4 L865.5,482.3 L870.5,483.4 L875.5,486.2 L880.5,490.0 L886.5,495.2 L891.5,494.2 L896.5,492.7 L901.5,489.7 L906.5,487.4 L911.5,485.2 L916.5,482.8 L921.5,479.2 L927.5,477.5 L932.5,477.7 L937.5,473.9 L942.5,469.4 L947.5,467.3 L952.5,465.1 L957.5,461.8 L962.5,459.9 L968.5,457.4 L973.5,452.0 L978.5,441.3 L983.5,429.4 L988.5,418.5 L993.5,406.4 L998.5,394.2 L1003.5,385.5 L1009.5,376.4 L1014.5,367.2 L1019.5,360.4 L1024.5,354.1 L1029.5,349.0 L1034.5,344.1 L1039.5,336.4 L1045.5,330.8 L1050.5,326.0 L1055.5,322.5 L1060.5,318.9 L1065.5,313.7 L1070.5,310.6 L1075.5,308.0 L1080.5,305.7 L1086.5,306.1 L1091.5,309.5 L1096.5,313.6 L1101.5,315.3 L1106.5,315.8 L1111.5,317.5 L1116.5,317.9 L1121.5,315.2 L1127.5,313.7 L1132.5,312.5 L1137.5,308.0 L1142.5,304.5 L1147.5,299.4 L1152.5,290.8 L1157.5,289.0 L1162.5,288.6 L1168.5,288.1 L1173.5,287.5 L1178.5,288.6 L1183.5,293.8 L1188.5,296.9 L1193.5,302.0 L1198.5,301.2 L1203.5,302.3 L1209.5,305.7 L1214.5,313.1 L1219.5,318.0 L1224.5,323.0 L1229.5,326.1 L1234.5,334.2 L1239.5,341.1 L1244.5,348.2 L1250.5,353.6 L1255.5,356.1 L1260.5,357.7 L1265.5,360.5 L1270.5,363.2 L1275.5,366.2 L1280.5,367.9 L1285.5,368.2 L1291.5,369.2 L1296.5,367.2 L1301.5,363.3 L1306.5,359.0 L1311.5,355.2 L1316.5,352.3 L1321.5,349.6 L1326.5,345.4 L1332.5,341.9 L1337.5,337.9 L1342.5,336.0 L1347.5,334.1 L1352.5,333.0 L1357.5,335.1 L1362.5,337.9 L1367.5,338.9 L1373.5,345.2 L1378.5,350.2 L1383.5,354.9 L1388.5,356.1 L1393.5,354.5 L1398.5,353.3 L1403.5,346.6 L1408.5,337.8 L1414.5,327.7 L1419.5,318.1 L1424.5,307.9 L1429.5,296.8 L1434.5,290.8 L1439.5,282.8 L1444.5,277.4 L1450.5,283.1 L1455.5,291.3 L1460.5,293.5 L1465.5,295.3 L1470.5,299.8 L1475.5,306.8 L1480.5,316.5 L1485.5,327.7 L1491.5,337.1 L1496.5,344.0 L1501.5,348.0 L1506.5,354.3 L1511.5,361.1 L1516.5,364.5 L1521.5,366.4 L1526.5,367.4 L1532.5,364.8 L1537.5,362.9 L1542.5,362.5 L1547.5,365.8 L1552.5,371.0 L1557.5,374.2 L1562.5,376.7 L1567.5,378.2 L1573.5,384.6 L1578.5,396.8 L1583.5,405.3 L1588.5,416.3 L1593.5,423.9 L1598.5,432.4 L1603.5,437.1 L1608.5,439.9 L1614.5,446.3 L1619.5,453.8 L1624.5,463.3 L1629.5,478.5 L1634.5,491.3 L1639.5,504.8 L1644.5,515.8" stroke="#6c9f6c" stroke-width="1"/>
</g>
<g clip-path="url(#pc)">
<path d="M4 661.2h1V698.3h-1ZM9 613.2h1V673.9h-1ZM14 593.5h1V643.5h-1ZM19 597.0h1V613.5h-1ZM24 595.9h1V622.5h-1ZM29 534.0h1V611.2h-1ZM50 646.2h1V707.5h-1ZM65 645.6h1V757.1h-1ZM70 620.8h1V672.2h-1ZM76 564.4h1V635.1h-1ZM86 476.8h1V577.0h-1ZM91 493.6h1V537.4h-1ZM101 414.6h1V583.7h-1ZM106 458.2h1V574.5h-1ZM117 460.8h1V555.1h-1ZM122 456.6h1V529.8h-1ZM147 495.3h1V554.3h-1ZM152 467.5h1V520.6h-1ZM173 534.0h1V723.9h-1ZM204 621.6h1V664.6h-1ZM209 604.8h1V656.2h-1ZM219 608.2h1V675.5h-1ZM229 594.7h1V636.8h-1ZM235 611.5h1V625.8h-1ZM255 628.4h1V659.5h-1ZM260 597.2h1V636.8h-1ZM270 627.5h1V647.7h-1ZM296 795.1h1V865.9h-1ZM306 803.6h1V849.0h-1ZM311 660.4h1V828.0h-1ZM322 763.1h1V887.8h-1ZM327 727.8h1V805.2h-1ZM358 852.4h1V970.3h-1ZM363 839.8h1V913.9h-1ZM373 823.8h1V899.6h-1ZM378 834.7h1V851.6h-1ZM388 833.0h1V870.9h-1ZM399 795.1h1V874.3h-1ZM419 808.6h1V852.4h-1ZM424 764.8h1V819.6h-1ZM440 781.7h1V814.5h-1ZM460 846.5h1V891.2h-1ZM465 820.4h1V871.8h-1ZM475 846.5h1V892.8h-1ZM481 833.9h1V884.4h-1ZM496 892.8h1V1005.7h-1ZM506 853.3h1V1004.0h-1ZM516 841.5h1V930.7h-1ZM522 814.5h1V866.7h-1ZM532 815.3h1V859.1h-1ZM542 821.2h1V860.0h-1ZM547 821.2h1V849.0h-1ZM557 818.7h1V838.9h-1ZM563 823.8h1V846.5h-1ZM568 770.7h1V826.3h-1ZM573 679.7h1V794.3h-1ZM578 665.4h1V711.8h-1ZM583 677.2h1V716.0h-1ZM588 647.7h1V695.7h-1ZM604 651.1h1V694.9h-1ZM619 619.9h1V675.5h-1ZM624 612.4h1V638.5h-1ZM640 657.0h1V685.6h-1ZM645 628.4h1V687.3h-1ZM650 614.9h1V646.1h-1ZM655 511.3h1V629.2h-1ZM665 492.8h1V528.1h-1ZM681 492.8h1V550.9h-1ZM691 505.4h1V552.6h-1ZM706 464.1h1V523.9h-1ZM716 453.2h1V505.4h-1ZM722 395.9h1V471.7h-1ZM727 374.9h1V419.5h-1ZM737 416.1h1V460.8h-1ZM742 419.5h1V465.0h-1ZM747 401.0h1V429.6h-1ZM773 493.6h1V523.9h-1ZM778 476.8h1V513.0h-1ZM783 475.9h1V513.8h-1ZM804 486.9h1V557.6h-1ZM809 476.8h1V510.5h-1ZM814 473.4h1V492.8h-1ZM819 399.3h1V485.2h-1ZM839 471.7h1V531.5h-1ZM850 475.1h1V500.3h-1ZM855 426.2h1V493.6h-1ZM865 483.2h1V516.2h-1ZM891 472.6h1V582.0h-1ZM896 470.0h1V497.8h-1ZM901 441.4h1V477.6h-1ZM911 445.6h1V468.3h-1ZM916 449.0h1V460.8h-1ZM921 433.0h1V454.9h-1ZM937 411.1h1V489.4h-1ZM942 398.4h1V431.3h-1ZM952 433.8h1V444.8h-1ZM957 412.8h1V443.9h-1ZM968 421.2h1V449.0h-1ZM973 374.9h1V434.7h-1ZM978 293.2h1V397.6h-1ZM983 258.6h1V319.3h-1ZM993 248.5h1V284.7h-1ZM998 187.0h1V256.9h-1ZM1009 238.4h1V288.9h-1ZM1014 224.1h1V275.5h-1ZM1034 244.3h1V297.4h-1ZM1039 235.9h1V303.3h-1ZM1060 268.7h1V286.4h-1ZM1065 242.6h1V275.5h-1ZM1101 327.7h1V373.2h-1ZM1106 311.7h1V337.8h-1ZM1116 311.7h1V350.4h-1ZM1121 278.8h1V335.3h-1ZM1137 251.0h1V299.0h-1ZM1147 234.2h1V269.6h-1ZM1152 177.8h1V256.9h-1ZM1168 273.8h1V285.6h-1ZM1173 262.8h1V285.6h-1ZM1188 331.1h1V367.3h-1ZM1198 283.9h1V378.2h-1ZM1219 368.1h1V429.6h-1ZM1229 349.6h1V393.4h-1ZM1239 425.4h1V451.5h-1ZM1250 409.4h1V453.2h-1ZM1255 378.2h1V432.1h-1ZM1260 363.9h1V391.7h-1ZM1280 382.4h1V405.2h-1ZM1285 359.7h1V396.8h-1ZM1296 335.3h1V392.5h-1ZM1301 315.1h1V350.4h-1ZM1306 294.0h1V326.8h-1ZM1321 294.0h1V333.6h-1ZM1326 289.8h1V327.7h-1ZM1337 274.6h1V299.0h-1ZM1347 303.3h1V315.9h-1ZM1367 341.2h1V389.2h-1ZM1378 402.6h1V430.4h-1ZM1388 368.1h1V419.5h-1ZM1393 332.7h1V381.6h-1ZM1403 262.0h1V341.2h-1ZM1408 222.4h1V266.2h-1ZM1414 173.6h1V250.2h-1ZM1419 189.6h1V210.6h-1ZM1424 143.2h1V203.9h-1ZM1429 134.8h1V186.2h-1ZM1439 168.5h1V221.6h-1ZM1460 308.3h1V411.1h-1ZM1465 306.6h1V343.7h-1ZM1491 449.8h1V469.2h-1ZM1496 417.0h1V473.4h-1ZM1501 379.1h1V449.8h-1ZM1516 385.8h1V450.7h-1ZM1521 374.0h1V412.8h-1ZM1526 374.9h1V399.3h-1ZM1532 330.2h1V386.6h-1ZM1557 388.3h1V437.2h-1ZM1562 397.6h1V417.8h-1ZM1567 387.5h1V419.5h-1ZM1583 500.3h1V594.7h-1ZM1593 508.8h1V588.8h-1ZM1603 492.8h1V554.3h-1ZM1608 464.1h1V500.3h-1ZM1634 630.1h1V670.5h-1ZM1644 644.5h1V685.5h-1ZM3 670.1h3V687.5h-3ZM8 628.5h3V670.1h-3ZM13 608.0h3V628.5h-3ZM18 605.8h3V608.0h-3ZM23 604.6h3V605.8h-3ZM28 541.1h3V604.6h-3ZM49 665.1h3V702.7h-3ZM64 668.5h3V669.5h-3ZM69 634.4h3V668.5h-3ZM75 567.6h3V634.4h-3ZM85 507.4h3V576.3h-3ZM90 499.3h3V507.4h-3ZM100 538.1h3V553.7h-3ZM105 472.7h3V538.1h-3ZM116 509.1h3V513.7h-3ZM121 495.0h3V509.1h-3ZM146 513.8h3V553.7h-3ZM151 496.3h3V513.8h-3ZM172 552.6h3V615.1h-3ZM203 635.1h3V636.1h-3ZM208 619.9h3V635.1h-3ZM218 612.0h3V647.2h-3ZM228 618.1h3V632.9h-3ZM234 616.9h3V618.1h-3ZM254 632.7h3V651.3h-3ZM259 604.3h3V632.7h-3ZM269 633.8h3V641.3h-3ZM295 833.9h3V839.8h-3ZM305 811.5h3V839.4h-3ZM310 673.0h3V811.5h-3ZM321 791.4h3V810.8h-3ZM326 734.2h3V791.4h-3ZM357 864.9h3V937.8h-3ZM362 850.4h3V864.9h-3ZM372 846.2h3V895.0h-3ZM377 839.9h3V846.2h-3ZM387 844.3h3V869.6h-3ZM398 797.7h3V867.2h-3ZM418 811.1h3V848.5h-3ZM423 786.7h3V811.1h-3ZM439 792.1h3V796.8h-3ZM459 870.1h3V873.8h-3ZM464 826.0h3V870.1h-3ZM474 860.8h3V871.1h-3ZM480 848.4h3V860.8h-3ZM495 925.9h3V943.2h-3ZM505 869.8h3V975.9h-3ZM515 855.8h3V919.3h-3ZM521 823.9h3V855.8h-3ZM531 836.6h3V851.1h-3ZM541 845.2h3V851.2h-3ZM546 830.5h3V845.2h-3ZM556 827.8h3V838.1h-3ZM562 826.0h3V827.8h-3ZM567 786.4h3V826.0h-3ZM572 686.7h3V786.4h-3ZM577 682.3h3V686.7h-3ZM582 678.2h3V682.3h-3ZM587 665.1h3V678.2h-3ZM603 660.2h3V681.4h-3ZM618 635.3h3V674.4h-3ZM623 628.5h3V635.3h-3ZM639 664.9h3V672.5h-3ZM644 629.5h3V664.9h-3ZM649 626.2h3V629.5h-3ZM654 521.6h3V626.2h-3ZM664 497.0h3V526.1h-3ZM680 505.9h3V528.8h-3ZM690 513.1h3V516.5h-3ZM705 467.5h3V522.4h-3ZM715 461.8h3V481.6h-3ZM721 413.1h3V461.8h-3ZM726 379.6h3V413.1h-3ZM736 444.9h3V453.3h-3ZM741 423.9h3V444.9h-3ZM746 417.1h3V423.9h-3ZM772 498.0h3V508.8h-3ZM777 481.0h3V498.0h-3ZM782 477.1h3V481.0h-3ZM803 502.2h3V549.5h-3ZM808 481.5h3V502.2h-3ZM813 478.6h3V481.5h-3ZM818 402.8h3V478.6h-3ZM838 473.6h3V476.3h-3ZM849 482.7h3V484.0h-3ZM854 459.1h3V482.7h-3ZM864 493.4h3V499.2h-3ZM890 482.2h3V559.5h-3ZM895 474.2h3V482.2h-3ZM900 452.2h3V474.2h-3ZM910 456.7h3V458.9h-3ZM915 452.7h3V456.7h-3ZM920 434.8h3V452.7h-3ZM936 426.9h3V480.1h-3ZM941 413.6h3V426.9h-3ZM951 437.5h3V440.9h-3ZM956 420.7h3V437.5h-3ZM967 425.4h3V436.3h-3ZM972 385.3h3V425.4h-3ZM977 306.8h3V385.3h-3ZM982 281.0h3V306.8h-3ZM992 254.1h3V282.5h-3ZM997 241.9h3V254.1h-3ZM1008 262.3h3V277.0h-3ZM1013 253.1h3V262.3h-3ZM1033 283.4h3V285.2h-3ZM1038 240.1h3V283.4h-3ZM1059 273.8h3V279.0h-3ZM1064 248.5h3V273.8h-3ZM1100 336.6h3V365.1h-3ZM1105 322.3h3V336.6h-3ZM1115 323.0h3V338.0h-3ZM1120 281.4h3V323.0h-3ZM1136 250.9h3V298.2h-3ZM1146 236.4h3V260.6h-3ZM1151 183.0h3V236.4h-3ZM1167 281.5h3V283.0h-3ZM1172 280.0h3V281.5h-3ZM1187 335.8h3V359.4h-3ZM1197 290.8h3V365.6h-3ZM1218 378.1h3V405.8h-3ZM1228 364.4h3V386.5h-3ZM1238 427.6h3V435.0h-3ZM1249 420.3h3V437.3h-3ZM1254 387.5h3V420.3h-3ZM1259 378.7h3V387.5h-3ZM1279 388.0h3V404.0h-3ZM1284 372.8h3V388.0h-3ZM1295 341.2h3V381.9h-3ZM1300 314.9h3V341.2h-3ZM1305 304.9h3V314.9h-3ZM1320 316.1h3V317.1h-3ZM1325 292.5h3V316.1h-3ZM1336 287.4h3V298.7h-3ZM1346 311.3h3V312.3h-3ZM1366 351.6h3V373.8h-3ZM1377 412.6h3V423.7h-3ZM1387 372.0h3V413.1h-3ZM1392 333.6h3V372.0h-3ZM1402 262.0h3V339.3h-3ZM1407 227.8h3V262.0h-3ZM1413 201.0h3V227.8h-3ZM1418 198.3h3V201.0h-3ZM1423 180.1h3V198.3h-3ZM1428 159.2h3V180.1h-3ZM1438 182.8h3V214.8h-3ZM1459 320.6h3V394.1h-3ZM1464 318.9h3V320.6h-3ZM1490 454.9h3V467.2h-3ZM1495 430.1h3V454.9h-3ZM1500 397.8h3V430.1h-3ZM1515 406.5h3V446.6h-3ZM1520 390.3h3V406.5h-3ZM1525 380.1h3V390.3h-3ZM1531 332.4h3V380.1h-3ZM1556 415.1h3V436.2h-3ZM1561 406.7h3V415.1h-3ZM1566 396.9h3V406.7h-3ZM1582 510.6h3V549.4h-3ZM1592 519.4h3V554.3h-3ZM1602 496.6h3V537.7h-3ZM1607 475.1h3V496.6h-3ZM1633 650.8h3V668.6h-3ZM1643 653.1h3V674.0h-3Z" fill="#1a9a82"/>
<path d="M35 530.3h1V640.5h-1ZM40 622.5h1V702.5h-1ZM45 654.0h1V724.4h-1ZM55 660.4h1V680.6h-1ZM60 654.0h1V682.3h-1ZM81 561.3h1V620.8h-1ZM96 470.0h1V584.2h-1ZM111 468.7h1V519.7h-1ZM127 486.9h1V507.1h-1ZM132 483.5h1V533.7h-1ZM137 522.2h1V613.5h-1ZM142 512.1h1V571.6h-1ZM158 475.1h1V550.0h-1ZM163 529.0h1V571.1h-1ZM168 550.9h1V640.2h-1ZM178 547.5h1V640.2h-1ZM183 596.4h1V639.3h-1ZM188 593.0h1V648.6h-1ZM193 574.0h1V649.4h-1ZM199 628.4h1V648.6h-1ZM214 602.3h1V662.1h-1ZM224 609.8h1V655.3h-1ZM240 614.9h1V643.5h-1ZM245 626.7h1V655.3h-1ZM250 630.9h1V687.3h-1ZM265 584.6h1V662.9h-1ZM276 632.6h1V656.2h-1ZM281 635.1h1V721.9h-1ZM286 702.5h1V810.3h-1ZM291 756.4h1V875.1h-1ZM301 827.1h1V942.5h-1ZM317 670.5h1V825.5h-1ZM332 697.4h1V780.8h-1ZM337 723.5h1V833.9h-1ZM342 796.8h1V813.7h-1ZM347 803.6h1V912.2h-1ZM352 844.0h1V956.0h-1ZM368 840.6h1V913.9h-1ZM383 828.8h1V878.5h-1ZM393 844.0h1V893.7h-1ZM404 788.4h1V859.1h-1ZM409 828.8h1V859.1h-1ZM414 837.2h1V851.6h-1ZM429 769.9h1V806.9h-1ZM434 773.2h1V813.7h-1ZM445 786.7h1V852.4h-1ZM450 836.4h1V885.3h-1ZM455 854.1h1V886.9h-1ZM470 769.9h1V874.3h-1ZM486 842.3h1V872.6h-1ZM491 849.9h1V961.1h-1ZM501 898.7h1V977.1h-1ZM511 867.6h1V939.2h-1ZM527 810.3h1V864.2h-1ZM537 804.4h1V850.7h-1ZM552 827.1h1V844.8h-1ZM593 655.3h1V678.9h-1ZM598 658.7h1V689.0h-1ZM609 652.8h1V680.6h-1ZM614 657.0h1V694.9h-1ZM629 627.5h1V646.9h-1ZM634 638.5h1V677.2h-1ZM660 503.7h1V537.4h-1ZM670 491.9h1V519.7h-1ZM675 478.4h1V562.7h-1ZM686 495.3h1V532.4h-1ZM696 499.5h1V523.9h-1ZM701 513.8h1V531.5h-1ZM711 456.6h1V542.5h-1ZM732 377.4h1V461.6h-1ZM752 395.9h1V448.1h-1ZM757 419.5h1V461.6h-1ZM763 426.2h1V486.0h-1ZM768 470.0h1V514.7h-1ZM788 461.6h1V492.8h-1ZM793 476.8h1V505.4h-1ZM798 476.8h1V569.4h-1ZM824 401.0h1V435.5h-1ZM829 401.0h1V438.0h-1ZM834 427.9h1V481.0h-1ZM845 471.7h1V492.8h-1ZM860 444.8h1V513.8h-1ZM870 488.7h1V508.8h-1ZM875 466.7h1V535.7h-1ZM880 508.8h1V544.1h-1ZM886 525.6h1V606.5h-1ZM906 441.4h1V465.0h-1ZM927 427.9h1V462.4h-1ZM932 449.0h1V487.7h-1ZM947 412.8h1V453.2h-1ZM962 411.9h1V450.7h-1ZM988 269.6h1V290.6h-1ZM1003 240.1h1V310.8h-1ZM1019 224.9h1V292.3h-1ZM1024 257.8h1V284.7h-1ZM1029 258.6h1V297.4h-1ZM1045 238.4h1V283.9h-1ZM1050 246.8h1V282.2h-1ZM1055 265.4h1V328.5h-1ZM1070 241.8h1V282.2h-1ZM1075 251.9h1V290.6h-1ZM1080 259.5h1V310.0h-1ZM1086 256.9h1V315.1h-1ZM1091 304.9h1V362.2h-1ZM1096 340.3h1V374.0h-1ZM1111 321.8h1V363.1h-1ZM1127 278.0h1V308.3h-1ZM1132 275.5h1V301.6h-1ZM1142 200.5h1V270.4h-1ZM1157 164.3h1V286.4h-1ZM1162 252.7h1V293.2h-1ZM1178 279.7h1V328.5h-1ZM1183 291.5h1V362.2h-1ZM1193 330.2h1V376.5h-1ZM1203 283.0h1V331.1h-1ZM1209 311.7h1V397.6h-1ZM1214 346.2h1V419.5h-1ZM1224 363.9h1V401.8h-1ZM1234 363.1h1V451.5h-1ZM1244 416.1h1V439.7h-1ZM1265 370.6h1V419.5h-1ZM1270 352.1h1V404.3h-1ZM1275 390.0h1V406.9h-1ZM1291 353.8h1V394.2h-1ZM1311 300.7h1V320.1h-1ZM1316 305.8h1V320.9h-1ZM1332 284.7h1V328.5h-1ZM1342 282.2h1V321.8h-1ZM1352 307.5h1V320.9h-1ZM1357 316.7h1V374.9h-1ZM1362 352.1h1V374.9h-1ZM1373 347.1h1V430.4h-1ZM1383 411.9h1V424.5h-1ZM1398 326.8h1V363.1h-1ZM1434 153.3h1V229.1h-1ZM1444 175.2h1V244.3h-1ZM1450 195.5h1V412.8h-1ZM1455 348.7h1V412.8h-1ZM1470 317.6h1V405.2h-1ZM1475 346.2h1V404.3h-1ZM1480 376.5h1V449.8h-1ZM1485 420.3h1V516.4h-1ZM1506 340.3h1V450.7h-1ZM1511 422.9h1V463.3h-1ZM1537 299.9h1V342.0h-1ZM1542 304.9h1V369.8h-1ZM1547 346.2h1V409.4h-1ZM1552 379.9h1V470.0h-1ZM1573 395.9h1V486.0h-1ZM1578 458.2h1V593.8h-1ZM1588 506.2h1V571.1h-1ZM1598 518.0h1V551.7h-1ZM1614 450.7h1V534.0h-1ZM1619 486.9h1V562.7h-1ZM1624 507.1h1V609.0h-1ZM1629 577.8h1V676.4h-1ZM1639 633.4h1V693.2h-1ZM34 541.1h3V628.0h-3ZM39 628.0h3V659.7h-3ZM44 659.7h3V702.7h-3ZM54 665.1h3V668.0h-3ZM59 668.0h3V669.0h-3ZM80 567.6h3V576.3h-3ZM95 499.3h3V553.7h-3ZM110 472.7h3V513.7h-3ZM126 495.0h3V496.8h-3ZM131 496.8h3V531.0h-3ZM136 531.0h3V540.9h-3ZM141 540.9h3V553.7h-3ZM157 496.3h3V535.6h-3ZM162 535.6h3V565.2h-3ZM167 565.2h3V615.1h-3ZM177 552.6h3V612.0h-3ZM182 612.0h3V633.1h-3ZM187 633.1h3V634.1h-3ZM192 633.6h3V634.6h-3ZM198 634.6h3V635.6h-3ZM213 619.9h3V647.2h-3ZM223 612.0h3V632.9h-3ZM239 616.9h3V641.5h-3ZM244 641.5h3V647.2h-3ZM249 647.2h3V651.3h-3ZM264 604.3h3V641.3h-3ZM275 633.8h3V639.0h-3ZM280 639.0h3V720.7h-3ZM285 720.7h3V765.8h-3ZM290 765.8h3V839.8h-3ZM300 833.9h3V839.4h-3ZM316 673.0h3V810.8h-3ZM331 734.2h3V745.3h-3ZM336 745.3h3V799.5h-3ZM341 799.5h3V809.5h-3ZM346 809.5h3V902.9h-3ZM351 902.9h3V937.8h-3ZM367 850.4h3V895.0h-3ZM382 839.9h3V869.6h-3ZM392 844.3h3V867.2h-3ZM403 797.7h3V842.8h-3ZM408 842.8h3V845.0h-3ZM413 845.0h3V848.5h-3ZM428 786.7h3V787.7h-3ZM433 787.2h3V796.8h-3ZM444 792.1h3V839.8h-3ZM449 839.8h3V869.3h-3ZM454 869.3h3V873.8h-3ZM469 826.0h3V871.1h-3ZM485 848.4h3V854.1h-3ZM490 854.1h3V943.2h-3ZM500 925.9h3V975.9h-3ZM510 869.8h3V919.3h-3ZM526 823.9h3V851.1h-3ZM536 836.6h3V851.2h-3ZM551 830.5h3V838.1h-3ZM592 665.1h3V666.3h-3ZM597 666.3h3V681.4h-3ZM608 660.2h3V672.8h-3ZM613 672.8h3V674.4h-3ZM628 628.5h3V645.9h-3ZM633 645.9h3V672.5h-3ZM659 521.6h3V526.1h-3ZM669 497.0h3V506.9h-3ZM674 506.9h3V528.8h-3ZM685 505.9h3V516.5h-3ZM695 513.1h3V517.4h-3ZM700 517.4h3V522.4h-3ZM710 467.5h3V481.6h-3ZM731 379.6h3V453.3h-3ZM751 417.1h3V424.7h-3ZM756 424.7h3V444.8h-3ZM762 444.8h3V481.1h-3ZM767 481.1h3V508.8h-3ZM787 477.1h3V484.7h-3ZM792 484.7h3V496.5h-3ZM797 496.5h3V549.5h-3ZM823 402.8h3V403.8h-3ZM828 403.3h3V429.8h-3ZM833 429.8h3V476.3h-3ZM844 473.6h3V484.0h-3ZM859 459.1h3V499.2h-3ZM869 493.4h3V498.2h-3ZM874 498.2h3V520.4h-3ZM879 520.4h3V538.1h-3ZM885 538.1h3V559.5h-3ZM905 452.2h3V458.9h-3ZM926 434.8h3V455.9h-3ZM931 455.9h3V480.1h-3ZM946 413.6h3V440.9h-3ZM961 420.7h3V436.3h-3ZM987 281.0h3V282.5h-3ZM1002 241.9h3V277.0h-3ZM1018 253.1h3V274.3h-3ZM1023 274.3h3V275.6h-3ZM1028 275.6h3V285.2h-3ZM1044 240.1h3V260.1h-3ZM1049 260.1h3V266.7h-3ZM1054 266.7h3V279.0h-3ZM1069 248.5h3V271.9h-3ZM1074 271.9h3V275.8h-3ZM1079 275.8h3V277.0h-3ZM1085 277.0h3V310.7h-3ZM1090 310.7h3V351.8h-3ZM1095 351.8h3V365.1h-3ZM1110 322.3h3V338.0h-3ZM1126 281.4h3V295.0h-3ZM1131 295.0h3V298.2h-3ZM1141 250.9h3V260.6h-3ZM1156 183.0h3V266.9h-3ZM1161 266.9h3V283.0h-3ZM1177 280.0h3V302.4h-3ZM1182 302.4h3V359.4h-3ZM1192 335.8h3V365.6h-3ZM1202 290.8h3V316.1h-3ZM1208 316.1h3V348.9h-3ZM1213 348.9h3V405.8h-3ZM1223 378.1h3V386.5h-3ZM1233 364.4h3V435.0h-3ZM1243 427.6h3V437.3h-3ZM1264 378.7h3V395.6h-3ZM1269 395.6h3V396.8h-3ZM1274 396.8h3V404.0h-3ZM1290 372.8h3V381.9h-3ZM1310 304.9h3V307.5h-3ZM1315 307.5h3V316.6h-3ZM1331 292.5h3V298.7h-3ZM1341 287.4h3V311.9h-3ZM1351 311.3h3V318.3h-3ZM1356 318.3h3V361.4h-3ZM1361 361.4h3V373.8h-3ZM1372 351.6h3V423.7h-3ZM1382 412.6h3V413.6h-3ZM1397 333.6h3V339.3h-3ZM1433 159.2h3V214.8h-3ZM1443 182.8h3V210.4h-3ZM1449 210.4h3V353.6h-3ZM1454 353.6h3V394.1h-3ZM1469 318.9h3V355.1h-3ZM1474 355.1h3V394.6h-3ZM1479 394.6h3V438.2h-3ZM1484 438.2h3V467.2h-3ZM1505 397.8h3V433.3h-3ZM1510 433.3h3V446.6h-3ZM1536 332.4h3V338.3h-3ZM1541 338.3h3V357.8h-3ZM1546 357.8h3V406.7h-3ZM1551 406.7h3V436.2h-3ZM1572 396.9h3V465.8h-3ZM1577 465.8h3V549.4h-3ZM1587 510.6h3V554.3h-3ZM1597 519.4h3V537.7h-3ZM1613 475.1h3V525.3h-3ZM1618 525.3h3V548.4h-3ZM1623 548.4h3V581.5h-3ZM1628 581.5h3V668.6h-3ZM1638 650.8h3V674.0h-3Z" fill="#e0404f"/>
</g>
<g stroke="#3b5bcc" stroke-width="2" stroke-linecap="round">
<path d="M726.5 376.8L973.4 440.1"/>
<path d="M1572.2 602.3L1660.1 534.6"/>
</g>
<path d="M10 653.5H1887" stroke="#2e8a7a" stroke-width="1" stroke-dasharray="1 2"/>
<rect x="10" y="1113.5" width="1928" height="53" fill="#f1edf9"/>
<path d="M10 1113.5H1938" stroke="#787b86" stroke-width="1" stroke-dasharray="5 6"/>
<path d="M10 1139.5H1938" stroke="#787b86" stroke-width="1" stroke-dasharray="5 6"/>
<path d="M10 1166.5H1938" stroke="#787b86" stroke-width="1" stroke-dasharray="5 6"/>
<g clip-path="url(#rc)" fill="none" stroke-linejoin="round">
<path d="M4.5,1146.5 L9.5,1142.6 L14.5,1140.1 L19.5,1138.8 L24.5,1137.9 L29.5,1135.6 L35.5,1136.3 L40.5,1137.5 L45.5,1139.0 L50.5,1139.6 L55.5,1140.1 L60.5,1140.5 L65.5,1140.9 L70.5,1140.8 L76.5,1139.5 L81.5,1138.8 L86.5,1137.8 L91.5,1136.8 L96.5,1136.5 L101.5,1136.9 L106.5,1135.4 L111.5,1134.2 L117.5,1132.6 L122.5,1131.2 L127.5,1129.9 L132.5,1129.0 L137.5,1128.3 L142.5,1128.2 L147.5,1128.4 L152.5,1128.3 L158.5,1129.3 L163.5,1130.9 L168.5,1132.2 L173.5,1132.9 L178.5,1134.8 L183.5,1136.3 L188.5,1137.9 L193.5,1139.6 L199.5,1141.3 L204.5,1142.5 L209.5,1143.4 L214.5,1144.4 L219.5,1145.3 L224.5,1146.6 L229.5,1147.2 L235.5,1147.4 L240.5,1147.3 L245.5,1148.1 L250.5,1148.4 L255.5,1148.1 L260.5,1147.2 L265.5,1147.0 L270.5,1146.6 L276.5,1146.3 L281.5,1147.3 L286.5,1148.3 L291.5,1150.4 L296.5,1152.2 L301.5,1154.2 L306.5,1155.7 L311.5,1154.9 L317.5,1155.3 L322.5,1155.3 L327.5,1155.2 L332.5,1155.7 L337.5,1156.0 L342.5,1156.5 L347.5,1157.5 L352.5,1157.7 L358.5,1156.8 L363.5,1155.2 L368.5,1154.0 L373.5,1152.2 L378.5,1151.0 L383.5,1151.9 L388.5,1151.3 L393.5,1151.2 L399.5,1150.9 L404.5,1150.9 L409.5,1150.5 L414.5,1150.1 L419.5,1148.7 L424.5,1146.8 L429.5,1145.7 L434.5,1144.8 L440.5,1143.6 L445.5,1143.5 L450.5,1143.6 L455.5,1143.7 L460.5,1143.9 L465.5,1143.3 L470.5,1143.9 L475.5,1143.9 L481.5,1143.8 L486.5,1143.8 L491.5,1145.0 L496.5,1146.2 L501.5,1147.9 L506.5,1148.2 L511.5,1148.9 L516.5,1148.4 L522.5,1147.4 L527.5,1146.6 L532.5,1145.7 L537.5,1145.6 L542.5,1144.9 L547.5,1144.2 L552.5,1143.7 L557.5,1143.1 L563.5,1141.5 L568.5,1139.7 L573.5,1136.6 L578.5,1134.8 L583.5,1132.5 L588.5,1130.7 L593.5,1129.2 L598.5,1127.8 L604.5,1126.3 L609.5,1124.9 L614.5,1123.6 L619.5,1122.0 L624.5,1120.3 L629.5,1119.1 L634.5,1118.4 L640.5,1118.1 L645.5,1118.3 L650.5,1118.4 L655.5,1117.7 L660.5,1117.2 L665.5,1116.5 L670.5,1115.7 L675.5,1115.5 L681.5,1114.9 L686.5,1114.5 L691.5,1114.5 L696.5,1114.6 L701.5,1114.5 L706.5,1113.3 L711.5,1112.5 L716.5,1111.9 L722.5,1111.0 L727.5,1110.7 L732.5,1111.8 L737.5,1112.9 L742.5,1113.7 L747.5,1113.9 L752.5,1114.5 L757.5,1115.3 L763.5,1116.7 L768.5,1118.4 L773.5,1119.9 L778.5,1121.6 L783.5,1123.0 L788.5,1124.7 L793.5,1127.0 L798.5,1130.4 L804.5,1131.6 L809.5,1132.6 L814.5,1133.7 L819.5,1134.0 L824.5,1134.2 L829.5,1134.5 L834.5,1134.8 L839.5,1134.7 L845.5,1134.9 L850.5,1135.3 L855.5,1135.4 L860.5,1136.0 L865.5,1136.2 L870.5,1135.8 L875.5,1136.4 L880.5,1137.6 L886.5,1139.1 L891.5,1140.2 L896.5,1141.2 L901.5,1141.4 L906.5,1141.0 L911.5,1140.7 L916.5,1140.1 L921.5,1139.3 L927.5,1139.2 L932.5,1139.0 L937.5,1138.1 L942.5,1136.9 L947.5,1135.8 L952.5,1134.5 L957.5,1132.7 L962.5,1132.4 L968.5,1132.1 L973.5,1131.5 L978.5,1130.0 L983.5,1128.4 L988.5,1126.8 L993.5,1125.3 L998.5,1123.3 L1003.5,1121.6 L1009.5,1120.5 L1014.5,1119.6 L1019.5,1118.6 L1024.5,1117.6 L1029.5,1117.2 L1034.5,1116.4 L1039.5,1115.2 L1045.5,1115.1 L1050.5,1115.9 L1055.5,1117.1 L1060.5,1118.3 L1065.5,1119.3 L1070.5,1120.9 L1075.5,1121.9 L1080.5,1123.1 L1086.5,1125.0 L1091.5,1127.2 L1096.5,1129.6 L1101.5,1131.2 L1106.5,1132.5 L1111.5,1134.6 L1116.5,1136.0 L1121.5,1136.5 L1127.5,1137.1 L1132.5,1137.7 L1137.5,1138.1 L1142.5,1138.0 L1147.5,1137.6 L1152.5,1136.6 L1157.5,1136.2 L1162.5,1135.3 L1168.5,1134.3 L1173.5,1133.8 L1178.5,1133.9 L1183.5,1134.4 L1188.5,1134.9 L1193.5,1136.4 L1198.5,1136.7 L1203.5,1137.1 L1209.5,1138.7 L1214.5,1140.6 L1219.5,1142.4 L1224.5,1144.9 L1229.5,1145.8 L1234.5,1147.0 L1239.5,1148.2 L1244.5,1149.4 L1250.5,1150.1 L1255.5,1149.6 L1260.5,1149.4 L1265.5,1149.0 L1270.5,1149.6 L1275.5,1150.1 L1280.5,1149.9 L1285.5,1148.9 L1291.5,1148.4 L1296.5,1147.2 L1301.5,1146.0 L1306.5,1144.0 L1311.5,1142.1 L1316.5,1140.3 L1321.5,1138.7 L1326.5,1137.3 L1332.5,1136.1 L1337.5,1134.5 L1342.5,1133.5 L1347.5,1132.4 L1352.5,1131.7 L1357.5,1132.2 L1362.5,1132.7 L1367.5,1133.3 L1373.5,1135.4 L1378.5,1137.4 L1383.5,1139.3 L1388.5,1140.2 L1393.5,1140.5 L1398.5,1141.3 L1403.5,1141.0 L1408.5,1140.5 L1414.5,1139.2 L1419.5,1137.9 L1424.5,1136.3 L1429.5,1133.6 L1434.5,1131.8 L1439.5,1130.2 L1444.5,1127.9 L1450.5,1127.6 L1455.5,1127.5 L1460.5,1127.5 L1465.5,1128.1 L1470.5,1128.8 L1475.5,1130.9 L1480.5,1133.7 L1485.5,1136.9 L1491.5,1140.0 L1496.5,1142.9 L1501.5,1145.5 L1506.5,1147.5 L1511.5,1149.9 L1516.5,1151.3 L1521.5,1150.9 L1526.5,1150.0 L1532.5,1149.4 L1537.5,1148.8 L1542.5,1148.2 L1547.5,1147.9 L1552.5,1147.4 L1557.5,1146.5 L1562.5,1145.7 L1567.5,1145.0 L1573.5,1145.5 L1578.5,1146.3 L1583.5,1146.4 L1588.5,1147.4 L1593.5,1148.1 L1598.5,1149.1 L1603.5,1150.1 L1608.5,1150.8 L1614.5,1151.7 L1619.5,1152.3 L1624.5,1152.8 L1629.5,1154.1 L1634.5,1155.4 L1639.5,1156.9 L1644.5,1157.4" stroke="#f5e68c" stroke-width="1.6"/>
<path d="M4.5,1146.5 L9.5,1138.7 L14.5,1135.1 L19.5,1134.8 L24.5,1134.6 L29.5,1124.2 L35.5,1140.6 L40.5,1145.4 L45.5,1151.3 L50.5,1144.8 L55.5,1145.2 L60.5,1145.3 L65.5,1145.3 L70.5,1138.8 L76.5,1128.3 L81.5,1130.0 L86.5,1121.1 L91.5,1120.2 L96.5,1130.9 L101.5,1128.8 L106.5,1120.9 L111.5,1128.4 L117.5,1127.8 L122.5,1126.0 L127.5,1126.4 L132.5,1133.2 L137.5,1135.1 L142.5,1137.6 L147.5,1130.9 L152.5,1128.2 L158.5,1136.2 L163.5,1141.6 L168.5,1149.4 L173.5,1138.7 L178.5,1147.2 L183.5,1149.9 L188.5,1150.0 L193.5,1150.1 L199.5,1150.3 L204.5,1150.2 L209.5,1146.7 L214.5,1151.5 L219.5,1143.7 L224.5,1147.4 L229.5,1144.2 L235.5,1143.9 L240.5,1148.7 L245.5,1149.8 L250.5,1150.7 L255.5,1145.6 L260.5,1138.5 L265.5,1146.7 L270.5,1144.8 L276.5,1145.9 L281.5,1160.4 L286.5,1166.1 L291.5,1173.3 L296.5,1171.8 L301.5,1172.3 L306.5,1164.8 L311.5,1138.4 L317.5,1154.4 L322.5,1151.6 L327.5,1143.9 L332.5,1145.1 L337.5,1151.0 L342.5,1152.0 L347.5,1160.5 L352.5,1163.3 L358.5,1152.6 L363.5,1150.7 L368.5,1154.9 L373.5,1148.2 L378.5,1147.4 L383.5,1150.5 L388.5,1146.9 L393.5,1149.5 L399.5,1140.0 L404.5,1145.3 L409.5,1145.6 L414.5,1146.0 L419.5,1140.5 L424.5,1137.1 L429.5,1137.2 L434.5,1138.7 L440.5,1138.0 L445.5,1145.7 L450.5,1150.0 L455.5,1150.6 L460.5,1149.8 L465.5,1141.2 L470.5,1148.4 L475.5,1146.4 L481.5,1144.0 L486.5,1145.0 L491.5,1158.1 L496.5,1154.4 L501.5,1160.5 L506.5,1142.1 L511.5,1148.2 L516.5,1139.5 L522.5,1135.6 L527.5,1139.3 L532.5,1137.4 L537.5,1139.5 L542.5,1138.6 L547.5,1136.4 L552.5,1137.7 L557.5,1136.0 L563.5,1135.7 L568.5,1129.3 L573.5,1117.1 L578.5,1116.6 L583.5,1116.2 L588.5,1114.8 L593.5,1115.1 L598.5,1119.0 L604.5,1116.3 L609.5,1119.7 L614.5,1120.1 L619.5,1114.6 L624.5,1113.7 L629.5,1118.9 L634.5,1126.4 L640.5,1125.1 L645.5,1119.2 L650.5,1118.7 L655.5,1106.3 L660.5,1107.6 L665.5,1104.8 L670.5,1107.8 L675.5,1114.1 L681.5,1111.4 L686.5,1114.5 L691.5,1114.1 L696.5,1115.4 L701.5,1117.1 L706.5,1109.4 L711.5,1114.0 L716.5,1111.3 L722.5,1105.8 L727.5,1102.6 L732.5,1122.3 L737.5,1121.2 L742.5,1118.5 L747.5,1117.6 L752.5,1119.7 L757.5,1125.0 L763.5,1133.8 L768.5,1139.6 L773.5,1137.5 L778.5,1134.1 L783.5,1133.3 L788.5,1135.2 L793.5,1138.2 L798.5,1149.7 L804.5,1139.1 L809.5,1135.0 L814.5,1134.5 L819.5,1122.0 L824.5,1122.1 L829.5,1128.6 L834.5,1138.4 L839.5,1137.9 L845.5,1140.0 L850.5,1139.8 L855.5,1134.7 L860.5,1143.5 L865.5,1142.2 L870.5,1143.2 L875.5,1148.0 L880.5,1151.5 L886.5,1155.5 L891.5,1137.3 L896.5,1135.8 L901.5,1131.7 L906.5,1133.3 L911.5,1132.8 L916.5,1132.0 L921.5,1128.2 L927.5,1134.1 L932.5,1140.3 L937.5,1129.1 L942.5,1126.7 L947.5,1133.6 L952.5,1132.9 L957.5,1129.5 L962.5,1133.7 L968.5,1131.3 L973.5,1123.5 L978.5,1112.5 L983.5,1109.7 L988.5,1110.1 L993.5,1107.1 L998.5,1105.8 L1003.5,1116.3 L1009.5,1114.4 L1014.5,1113.2 L1019.5,1119.6 L1024.5,1120.0 L1029.5,1122.9 L1034.5,1122.6 L1039.5,1115.2 L1045.5,1121.6 L1050.5,1123.6 L1055.5,1127.5 L1060.5,1126.3 L1065.5,1121.2 L1070.5,1128.8 L1075.5,1130.0 L1080.5,1130.3 L1086.5,1140.6 L1091.5,1150.4 L1096.5,1153.1 L1101.5,1145.0 L1106.5,1141.2 L1111.5,1145.0 L1116.5,1141.0 L1121.5,1131.2 L1127.5,1134.9 L1132.5,1135.7 L1137.5,1125.7 L1142.5,1128.5 L1147.5,1123.9 L1152.5,1115.5 L1157.5,1135.5 L1162.5,1138.6 L1168.5,1138.3 L1173.5,1138.0 L1178.5,1142.7 L1183.5,1152.8 L1188.5,1147.6 L1193.5,1152.4 L1198.5,1138.0 L1203.5,1142.3 L1209.5,1147.4 L1214.5,1155.0 L1219.5,1149.8 L1224.5,1150.9 L1229.5,1146.7 L1234.5,1156.1 L1239.5,1154.6 L1244.5,1155.9 L1250.5,1152.3 L1255.5,1145.8 L1260.5,1144.1 L1265.5,1146.9 L1270.5,1147.1 L1275.5,1148.5 L1280.5,1144.7 L1285.5,1141.2 L1291.5,1143.2 L1296.5,1134.3 L1301.5,1129.3 L1306.5,1127.5 L1311.5,1128.2 L1316.5,1130.8 L1321.5,1130.7 L1326.5,1125.6 L1332.5,1127.6 L1337.5,1125.1 L1342.5,1133.0 L1347.5,1132.8 L1352.5,1135.1 L1357.5,1147.3 L1362.5,1150.2 L1367.5,1143.5 L1373.5,1158.2 L1378.5,1155.0 L1383.5,1155.1 L1388.5,1143.8 L1393.5,1135.2 L1398.5,1136.6 L1403.5,1122.9 L1408.5,1118.3 L1414.5,1115.0 L1419.5,1114.7 L1424.5,1112.5 L1429.5,1110.1 L1434.5,1124.7 L1439.5,1120.3 L1444.5,1126.7 L1450.5,1149.9 L1455.5,1154.5 L1460.5,1143.4 L1465.5,1143.2 L1470.5,1147.7 L1475.5,1152.3 L1480.5,1156.9 L1485.5,1159.7 L1491.5,1157.5 L1496.5,1153.1 L1501.5,1147.6 L1506.5,1152.0 L1511.5,1153.6 L1516.5,1146.6 L1521.5,1144.0 L1526.5,1142.2 L1532.5,1134.8 L1537.5,1135.8 L1542.5,1139.2 L1547.5,1146.9 L1552.5,1151.0 L1557.5,1147.1 L1562.5,1145.5 L1567.5,1143.7 L1573.5,1153.9 L1578.5,1163.1 L1583.5,1155.9 L1588.5,1160.3 L1593.5,1154.1 L1598.5,1156.2 L1603.5,1149.1 L1608.5,1145.6 L1614.5,1151.9 L1619.5,1154.5 L1624.5,1158.1 L1629.5,1166.0 L1634.5,1162.8 L1639.5,1164.8 L1644.5,1160.8" stroke="#7c62c4" stroke-width="1.1"/>
</g>
<g font-family="Liberation Sans, sans-serif">
<text x="10" y="18.6" font-size="12.5" fill="#131722" text-anchor="start" font-weight="normal" textLength="390" lengthAdjust="spacingAndGlyphs">arman_shirinyan created with TradingView.com, Nov 17, 2025 14:47 UTC</text>
<text x="18" y="45.9" font-size="12" fill="#131722" text-anchor="start" font-weight="normal" textLength="193" lengthAdjust="spacingAndGlyphs">Bitcoin / U.S. Dollar · 1D · Bitstamp</text>
<text x="218.4" y="45.9" font-size="12" textLength="43.7" lengthAdjust="spacingAndGlyphs"><tspan fill="#131722">O</tspan><tspan fill="#089981">94,186</tspan></text>
<text x="269" y="45.9" font-size="12" textLength="44.0" lengthAdjust="spacingAndGlyphs"><tspan fill="#131722">H</tspan><tspan fill="#089981">95,938</tspan></text>
<text x="320.2" y="45.9" font-size="12" textLength="41.8" lengthAdjust="spacingAndGlyphs"><tspan fill="#131722">L</tspan><tspan fill="#089981">93,506</tspan></text>
<text x="369.4" y="45.9" font-size="12" textLength="43.2" lengthAdjust="spacingAndGlyphs"><tspan fill="#131722">C</tspan><tspan fill="#089981">95,427</tspan></text>
<text x="420" y="45.9" font-size="12" fill="#089981" text-anchor="start" font-weight="normal" textLength="85" lengthAdjust="spacingAndGlyphs">+1,240 (+1.32%)</text>
<text x="18" y="62.4" font-size="12" fill="#131722" text-anchor="start" font-weight="normal" textLength="47.6" lengthAdjust="spacingAndGlyphs">Vol · BTC</text>
<text x="73.9" y="62.4" font-size="12" fill="#26a69a" text-anchor="start" font-weight="normal" textLength="32.4" lengthAdjust="spacingAndGlyphs">1.68 K</text>
<text x="18" y="79.4" font-size="12" fill="#131722" text-anchor="start" font-weight="normal" textLength="64.9" lengthAdjust="spacingAndGlyphs">EMAs_Editor</text>
<text x="90.9" y="79.4" font-size="12" fill="#2e8b2e" text-anchor="start" font-weight="normal" textLength="41.7" lengthAdjust="spacingAndGlyphs">103,562</text>
<text x="140.6" y="79.4" font-size="12" fill="#131722" text-anchor="start" font-weight="normal" textLength="41.1" lengthAdjust="spacingAndGlyphs">107,347</text>
<text x="190" y="79.4" font-size="12" fill="#5b9cf6" text-anchor="start" font-weight="normal" textLength="41.5" lengthAdjust="spacingAndGlyphs">109,970</text>
<text x="239.8" y="79.4" font-size="12" fill="#f0a020" text-anchor="start" font-weight="normal" textLength="41.1" lengthAdjust="spacingAndGlyphs">109,399</text>
<text x="1947.5" y="1085.0" font-size="11.5" fill="#131722" text-anchor="start" font-weight="normal" textLength="34.9" lengthAdjust="spacingAndGlyphs">70,000</text>
<text x="1947.5" y="1051.3" font-size="11.5" fill="#131722" text-anchor="start" font-weight="normal" textLength="34.9" lengthAdjust="spacingAndGlyphs">72,000</text>
<text x="1947.5" y="1017.6" font-size="11.5" fill="#131722" text-anchor="start" font-weight="normal" textLength="34.9" lengthAdjust="spacingAndGlyphs">74,000</text>
<text x="1947.5" y="983.9" font-size="11.5" fill="#131722" text-anchor="start" font-weight="normal" textLength="34.9" lengthAdjust="spacingAndGlyphs">76,000</text>
<text x="1947.5" y="950.2" font-size="11.5" fill="#131722" text-anchor="start" font-weight="normal" textLength="34.9" lengthAdjust="spacingAndGlyphs">78,000</text>
<text x="1947.5" y="916.5" font-size="11.5" fill="#131722" text-anchor="start" font-weight="normal" textLength="34.9" lengthAdjust="spacingAndGlyphs">80,000</text>
<text x="1947.5" y="882.9" font-size="11.5" fill="#131722" text-anchor="start" font-weight="normal" textLength="34.9" lengthAdjust="spacingAndGlyphs">82,000</text>
<text x="1947.5" y="849.2" font-size="11.5" fill="#131722" text-anchor="start" font-weight="normal" textLength="34.9" lengthAdjust="spacingAndGlyphs">84,000</text>
<text x="1947.5" y="815.5" font-size="11.5" fill="#131722" text-anchor="start" font-weight="normal" textLength="34.9" lengthAdjust="spacingAndGlyphs">86,000</text>
<text x="1947.5" y="781.8" font-size="11.5" fill="#131722" text-anchor="start" font-weight="normal" textLength="34.9" lengthAdjust="spacingAndGlyphs">88,000</text>
<text x="1947.5" y="748.1" font-size="11.5" fill="#131722" text-anchor="start" font-weight="normal" textLength="34.9" lengthAdjust="spacingAndGlyphs">90,000</text>
<text x="1947.5" y="714.4" font-size="11.5" fill="#131722" text-anchor="start" font-weight="normal" textLength="34.9" lengthAdjust="spacingAndGlyphs">92,000</text>
<text x="1947.5" y="680.7" font-size="11.5" fill="#131722" text-anchor="start" font-weight="normal" textLength="34.9" lengthAdjust="spacingAndGlyphs">94,000</text>
<text x="1947.5" y="647.0" font-size="11.5" fill="#131722" text-anchor="start" font-weight="normal" textLength="34.9" lengthAdjust="spacingAndGlyphs">96,000</text>
<text x="1947.5" y="613.3" font-size="11.5" fill="#131722" text-anchor="start" font-weight="normal" textLength="34.9" lengthAdjust="spacingAndGlyphs">98,000</text>
<text x="1947.5" y="579.7" font-size="11.5" fill="#131722" text-anchor="start" font-weight="normal" textLength="41.3" lengthAdjust="spacingAndGlyphs">100,000</text>
<text x="1947.5" y="546.0" font-size="11.5" fill="#131722" text-anchor="start" font-weight="normal" textLength="41.3" lengthAdjust="spacingAndGlyphs">102,000</text>
<text x="1947.5" y="512.3" font-size="11.5" fill="#131722" text-anchor="start" font-weight="normal" textLength="41.3" lengthAdjust="spacingAndGlyphs">104,000</text>
<text x="1947.5" y="478.6" font-size="11.5" fill="#131722" text-anchor="start" font-weight="normal" textLength="41.3" lengthAdjust="spacingAndGlyphs">106,000</text>
<text x="1947.5" y="444.9" font-size="11.5" fill="#131722" text-anchor="start" font-weight="normal" textLength="41.3" lengthAdjust="spacingAndGlyphs">108,000</text>
<text x="1947.5" y="377.5" font-size="11.5" fill="#131722" text-anchor="start" font-weight="normal" textLength="41.3" lengthAdjust="spacingAndGlyphs">112,000</text>
<text x="1947.5" y="343.8" font-size="11.5" fill="#131722" text-anchor="start" font-weight="normal" textLength="41.3" lengthAdjust="spacingAndGlyphs">114,000</text>
<text x="1947.5" y="310.1" font-size="11.5" fill="#131722" text-anchor="start" font-weight="normal" textLength="41.3" lengthAdjust="spacingAndGlyphs">116,000</text>
<text x="1947.5" y="276.4" font-size="11.5" fill="#131722" text-anchor="start" font-weight="normal" textLength="41.3" lengthAdjust="spacingAndGlyphs">118,000</text>
<text x="1947.5" y="242.8" font-size="11.5" fill="#131722" text-anchor="start" font-weight="normal" textLength="41.3" lengthAdjust="spacingAndGlyphs">120,000</text>
<text x="1947.5" y="209.1" font-size="11.5" fill="#131722" text-anchor="start" font-weight="normal" textLength="41.3" lengthAdjust="spacingAndGlyphs">122,000</text>
<text x="1947.5" y="175.4" font-size="11.5" fill="#131722" text-anchor="start" font-weight="normal" textLength="41.3" lengthAdjust="spacingAndGlyphs">124,000</text>
<text x="1947.5" y="141.7" font-size="11.5" fill="#131722" text-anchor="start" font-weight="normal" textLength="41.3" lengthAdjust="spacingAndGlyphs">126,000</text>
<text x="1947.5" y="108.0" font-size="11.5" fill="#131722" text-anchor="start" font-weight="normal" textLength="41.3" lengthAdjust="spacingAndGlyphs">128,000</text>
<text x="1947.5" y="74.3" font-size="11.5" fill="#131722" text-anchor="start" font-weight="normal" textLength="41.3" lengthAdjust="spacingAndGlyphs">130,000</text>
<text x="1947.5" y="40.6" font-size="11.5" fill="#131722" text-anchor="start" font-weight="normal" textLength="41.3" lengthAdjust="spacingAndGlyphs">132,000</text>
<text x="1947.5" y="1110.5" font-size="11.5" fill="#131722" text-anchor="start" font-weight="normal" textLength="28.5" lengthAdjust="spacingAndGlyphs">75.00</text>
<text x="1947.5" y="1176.1" font-size="11.5" fill="#131722" text-anchor="start" font-weight="normal" textLength="28.5" lengthAdjust="spacingAndGlyphs">25.00</text>
<text x="163.5" y="1199" font-size="12" fill="#131722" text-anchor="middle" font-weight="normal">Feb</text>
<text x="306.5" y="1199" font-size="12" fill="#131722" text-anchor="middle" font-weight="normal">Mar</text>
<text x="465.5" y="1199" font-size="12" fill="#131722" text-anchor="middle" font-weight="normal">Apr</text>
<text x="619.5" y="1199" font-size="12" fill="#131722" text-anchor="middle" font-weight="normal">May</text>
<text x="778.5" y="1199" font-size="12" fill="#131722" text-anchor="middle" font-weight="normal">Jun</text>
<text x="932.5" y="1199" font-size="12" fill="#131722" text-anchor="middle" font-weight="normal">Jul</text>
<text x="1091.5" y="1199" font-size="12" fill="#131722" text-anchor="middle" font-weight="normal">Aug</text>
<text x="1250.5" y="1199" font-size="12" fill="#131722" text-anchor="middle" font-weight="normal">Sep</text>
<text x="1403.5" y="1199" font-size="12" fill="#131722" text-anchor="middle" font-weight="normal">Oct</text>
<text x="1562.5" y="1199" font-size="12" fill="#131722" text-anchor="middle" font-weight="normal">Nov</text>
<text x="1716.5" y="1199" font-size="12" fill="#131722" text-anchor="middle" font-weight="normal">Dec</text>
<text x="1875.5" y="1199" font-size="12" fill="#131722" text-anchor="middle" font-weight="bold">2026</text>
<text x="18.6" y="1113" font-size="12" fill="#131722" textLength="75.2" lengthAdjust="spacingAndGlyphs">RSI (14, close)</text>
<text x="102.3" y="1113" font-size="12" fill="#7e57c2" textLength="28.5" lengthAdjust="spacingAndGlyphs">34.04</text>
<text x="139.5" y="1113" font-size="12" fill="#ede58a" textLength="28.5" lengthAdjust="spacingAndGlyphs">36.67</text>
<text x="175" y="1113" font-size="12" fill="#131722">Ø</text>
<text x="191.2" y="1113" font-size="12" fill="#131722">Ø</text>
<text x="206" y="1113" font-size="12" fill="#131722">Ø</text>
<text x="221" y="1113" font-size="12" fill="#131722">Ø</text>
</g>
<rect x="1939" y="393" width="56" height="16.399999999999977" rx="2" fill="#5b9cf6"/>
<text x="1947.5" y="404.8" font-size="11.5" fill="#131722" font-weight="normal" font-family="Liberation Sans, sans-serif" textLength="41.3" lengthAdjust="spacingAndGlyphs">109,970</text>
<rect x="1939" y="410.3" width="56" height="16.399999999999977" rx="2" fill="#ff9800"/>
<text x="1947.5" y="422.1" font-size="11.5" fill="#131722" font-weight="normal" font-family="Liberation Sans, sans-serif" textLength="41.3" lengthAdjust="spacingAndGlyphs">109,399</text>
<rect x="1939" y="444.3" width="56" height="16.399999999999977" rx="2" fill="#000000"/>
<text x="1947.5" y="456.1" font-size="11.5" fill="#ffffff" font-weight="bold" font-family="Liberation Sans, sans-serif" textLength="41.3" lengthAdjust="spacingAndGlyphs">107,347</text>
<rect x="1939" y="508.2" width="56" height="16.400000000000034" rx="2" fill="#008000"/>
<text x="1947.5" y="520.0" font-size="11.5" fill="#ffffff" font-weight="bold" font-family="Liberation Sans, sans-serif" textLength="41.3" lengthAdjust="spacingAndGlyphs">103,562</text>
<path d="M1891 645.2H1938V661.9H1891Q1888 661.9 1888 658.9V648.2Q1888 645.2 1891 645.2Z" fill="#12977f"/>
<text x="1892.6" y="656.5" font-size="11.5" fill="#e6fff8" font-family="Liberation Sans, sans-serif" textLength="41.6" lengthAdjust="spacingAndGlyphs">BTCUSD</text>
<path d="M1939 645.2H1996Q1999 645.2 1999 648.2V672.6Q1999 675.6 1996 675.6H1939Z" fill="#12977f"/>
<text x="1947.3" y="656.5" font-size="11.5" fill="#e6fff8" font-family="Liberation Sans, sans-serif" textLength="34.8" lengthAdjust="spacingAndGlyphs">95,427</text>
<text x="1947.3" y="670.4" font-size="11.5" fill="#e6fff8" font-family="Liberation Sans, sans-serif" textLength="46.5" lengthAdjust="spacingAndGlyphs">09:12:30</text>
<rect x="1938.7" y="1012.1" width="46.3" height="16.5" rx="2" fill="#26a69a"/>
<text x="1947.5" y="1024.6" font-size="11.5" fill="#ffffff" font-weight="bold" font-family="Liberation Sans, sans-serif" textLength="31.4" lengthAdjust="spacingAndGlyphs">1.68K</text>
<rect x="1939.3" y="1135.3" width="42.4" height="16.6" rx="2" fill="#f5e43a"/>
<text x="1947.4" y="1147.9" font-size="11.5" fill="#131722" font-family="Liberation Sans, sans-serif" textLength="28.9" lengthAdjust="spacingAndGlyphs">36.67</text>
<rect x="1939.3" y="1152.3" width="42.4" height="16.2" rx="2" fill="#7e57c2"/>
<text x="1947.4" y="1164.5" font-size="11.5" fill="#ffffff" font-weight="bold" font-family="Liberation Sans, sans-serif" textLength="28.9" lengthAdjust="spacingAndGlyphs">34.04</text>
<g>
<circle cx="1660.7" cy="1079.8" r="9.2" fill="#fff0f2" stroke="#d2404f" stroke-width="1.7"/>
<path d="M1663.5 1077L1667 1079.8L1663.5 1082.6Z" fill="#d2404f"/>
<circle cx="1653.7" cy="1079.8" r="9.2" fill="#fff" stroke="#d2404f" stroke-width="1.7"/>
<clipPath id="fl"><circle cx="1653.7" cy="1079.8" r="7.4"/></clipPath>
<g clip-path="url(#fl)"><rect x="1645" y="1071" width="18" height="18" fill="#fff"/>
<rect x="1645" y="1078" width="18" height="2.2" fill="#d9434f"/>
<rect x="1645" y="1084.2" width="18" height="5" fill="#d9434f"/>
<rect x="1645" y="1071" width="11.5" height="10.5" fill="#3d7fdc"/>
<rect x="1648.5" y="1073.6" width="1.2" height="1.2" fill="#cfe6ff"/>
<rect x="1651.3" y="1073.6" width="1.2" height="1.2" fill="#cfe6ff"/>
<rect x="1654.1" y="1073.6" width="1.2" height="1.2" fill="#cfe6ff"/>
<rect x="1648.5" y="1076.2" width="1.2" height="1.2" fill="#cfe6ff"/>
<rect x="1651.3" y="1076.2" width="1.2" height="1.2" fill="#cfe6ff"/>
<rect x="1654.1" y="1076.2" width="1.2" height="1.2" fill="#cfe6ff"/>
<rect x="1648.5" y="1078.8" width="1.2" height="1.2" fill="#cfe6ff"/>
<rect x="1651.3" y="1078.8" width="1.2" height="1.2" fill="#cfe6ff"/>
<rect x="1654.1" y="1078.8" width="1.2" height="1.2" fill="#cfe6ff"/>
</g></g>
<g fill="#131722">
<path d="M11.8 1231H23.6V1245.7H17.9V1236.2H11.8Z"/>
<circle cx="29.3" cy="1233.7" r="2.6"/>
<path d="M33.2 1231H41.8L36.4 1245.7H29.6Z"/>
<text x="49" y="1245.7" font-size="20" font-weight="bold" font-family="Liberation Sans, sans-serif" textLength="120.8" lengthAdjust="spacingAndGlyphs">TradingView</text>
</g>
</svg>
</body></html>
